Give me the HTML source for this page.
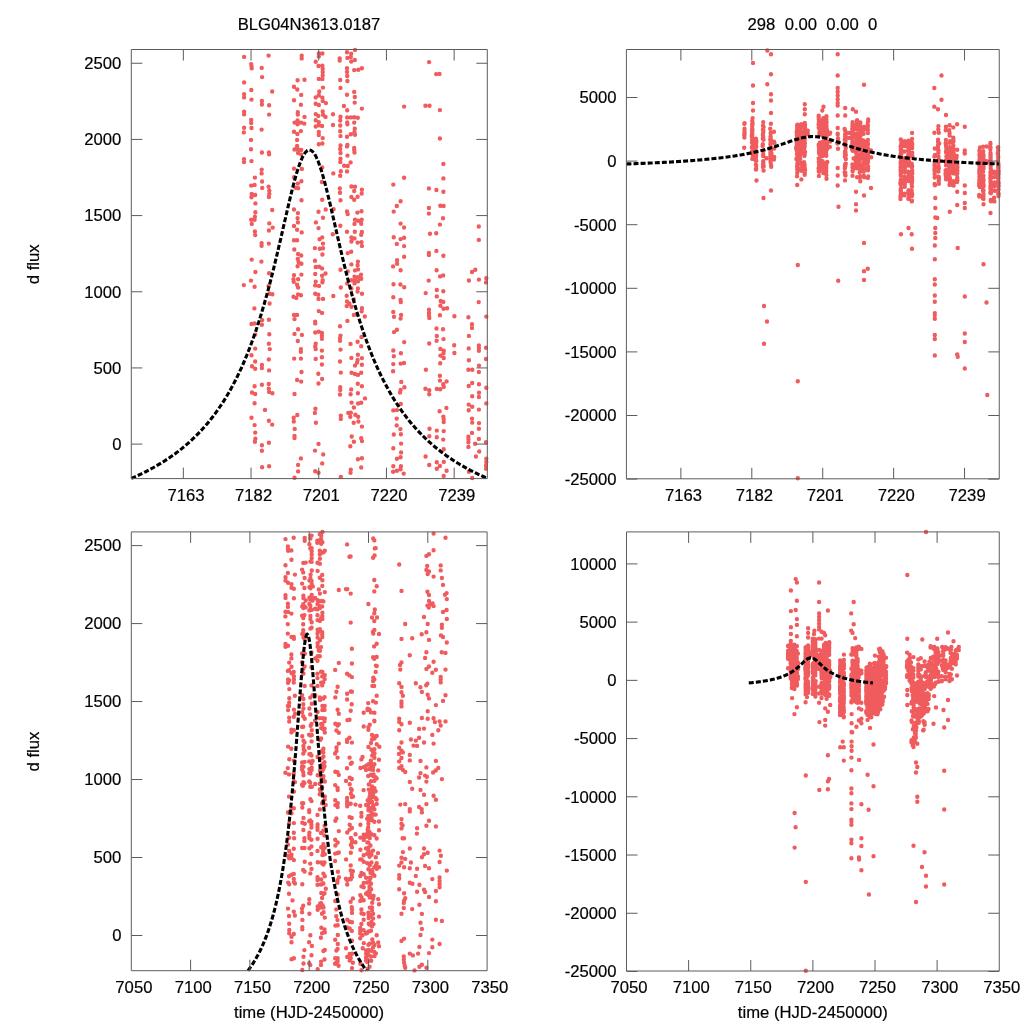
<!DOCTYPE html>
<html><head><meta charset="utf-8"><title>BLG04N3613.0187</title>
<style>html,body{margin:0;padding:0;background:#fff}svg{display:block}</style></head>
<body><svg width="1024" height="1024" viewBox="0 0 1024 1024">
<rect width="1024" height="1024" fill="#fff"/>
<g fill="none" stroke="#f05c5d" stroke-width="4.4" stroke-linecap="round">
<path d="M244.1 56.9h0M244.1 82.4h0M244.1 94.1h0M244.1 97.4h0M244.1 111.7h0M244.1 114.3h0M244.1 127.8h0M243.8 132.4h0M251.2 64.1h0M251.5 66.2h0M251.7 68.3h0M251.3 90.0h0M251.5 99.6h0M251.2 120.0h0M251.2 123.1h0M251.5 128.0h0M251.0 139.9h0M251.0 149.2h0M261.7 67.9h0M262.1 77.1h0M261.9 100.9h0M261.9 104.5h0M261.6 129.6h0M268.6 55.6h0M272.2 91.5h0M269.1 105.3h0M269.1 114.6h0M301.7 55.8h0M301.7 58.4h0M297.6 80.2h0M304.5 79.8h0M294.0 86.7h0M297.3 89.5h0M301.2 94.9h0M294.0 100.3h0M300.9 104.7h0M297.8 112.2h0M297.8 114.5h0M304.5 116.9h0M294.5 122.6h0M297.6 120.5h0M297.6 124.2h0M301.2 122.6h0M304.3 123.6h0M294.0 131.7h0M300.9 131.1h0M297.4 134.0h0M297.1 140.0h0M297.1 145.9h0M294.5 149.5h0M298.1 149.5h0M301.2 150.0h0M318.8 53.5h0M322.4 53.5h0M318.8 56.4h0M315.7 61.8h0M318.5 66.0h0M322.4 65.7h0M322.7 68.8h0M322.7 71.9h0M322.7 75.5h0M318.8 78.9h0M322.4 79.1h0M323.0 87.6h0M319.3 91.5h0M318.8 95.2h0M315.7 97.4h0M322.4 97.8h0M322.7 100.9h0M325.9 103.1h0M315.7 103.8h0M318.8 105.0h0M322.7 111.4h0M315.7 114.1h0M318.3 115.9h0M323.0 114.8h0M325.5 116.9h0M315.7 120.3h0M318.8 122.1h0M318.8 125.2h0M315.7 126.5h0M322.1 126.0h0M318.8 131.9h0M318.8 135.0h0M322.7 138.1h0M318.8 144.3h0M322.4 143.5h0M244.0 159.2h0M244.0 162.1h0M251.5 161.1h0M254.9 177.6h0M251.2 185.6h0M254.6 184.9h0M251.7 193.9h0M255.2 195.0h0M251.5 197.2h0M255.4 203.4h0M255.4 212.3h0M254.9 216.7h0M251.2 219.8h0M254.6 219.8h0M251.8 223.9h0M254.9 231.5h0M255.2 235.1h0M261.9 152.5h0M261.7 169.6h0M261.6 173.4h0M262.1 181.5h0M262.2 187.9h0M261.6 243.1h0M261.6 245.7h0M268.9 152.5h0M269.1 154.3h0M268.6 186.7h0M269.3 190.8h0M269.3 193.9h0M268.9 197.0h0M272.2 210.0h0M269.3 223.4h0M272.7 227.6h0M268.9 230.5h0M268.8 243.6h0M298.1 153.0h0M301.2 154.6h0M294.0 168.6h0M301.9 168.9h0M294.0 177.2h0M301.4 181.3h0M297.8 183.6h0M295.5 187.7h0M298.1 188.2h0M301.5 200.3h0M294.0 209.5h0M297.9 213.1h0M297.6 218.2h0M297.9 222.4h0M294.0 226.0h0M297.1 229.8h0M301.7 232.4h0M294.0 240.3h0M297.1 240.2h0M294.3 249.5h0M298.1 254.0h0M301.2 255.5h0M322.2 167.5h0M321.9 182.0h0M322.2 199.8h0M325.7 209.5h0M318.5 211.7h0M323.0 217.7h0M315.9 222.4h0M318.5 228.1h0M322.2 237.4h0M319.6 239.3h0M323.0 243.6h0M314.9 248.1h0M319.8 248.8h0M323.0 248.3h0M322.4 254.5h0M333.3 173.4h0M333.6 209.2h0M332.8 234.3h0M243.8 285.1h0M251.7 259.6h0M255.4 272.0h0M251.0 280.6h0M254.6 286.8h0M254.4 308.4h0M251.5 323.9h0M254.6 323.4h0M255.2 334.6h0M255.2 348.6h0M251.5 355.3h0M255.2 361.5h0M261.4 261.6h0M262.2 320.1h0M261.9 324.8h0M269.1 273.3h0M268.6 285.9h0M269.3 293.7h0M272.4 294.2h0M269.6 303.5h0M268.9 319.8h0M269.3 334.3h0M268.9 343.7h0M269.8 349.1h0M268.8 359.4h0M297.8 259.0h0M298.6 262.1h0M301.4 263.7h0M297.6 266.3h0M301.4 274.6h0M294.0 275.1h0M293.5 279.2h0M298.1 279.2h0M293.7 281.8h0M297.1 284.7h0M298.1 287.5h0M293.5 296.8h0M296.3 297.9h0M298.1 294.4h0M301.0 295.3h0M294.0 314.9h0M297.1 314.9h0M294.5 319.1h0M298.1 329.2h0M294.5 333.9h0M301.9 334.9h0M297.8 341.0h0M300.9 349.1h0M300.9 351.7h0M294.2 358.6h0M300.9 358.6h0M315.0 260.8h0M315.7 267.0h0M319.1 266.8h0M322.1 268.4h0M315.2 274.0h0M325.5 273.5h0M322.1 275.8h0M322.7 280.3h0M315.7 281.6h0M322.4 282.3h0M315.2 285.4h0M319.0 285.9h0M315.2 293.7h0M318.3 294.7h0M318.5 298.9h0M323.0 298.9h0M318.8 311.1h0M322.1 312.9h0M315.2 321.7h0M315.2 323.4h0M315.2 332.5h0M318.8 331.8h0M321.9 333.0h0M321.9 335.8h0M321.9 338.7h0M315.7 343.7h0M315.2 346.5h0M315.7 349.1h0M321.9 350.6h0M321.9 357.2h0M315.7 358.9h0M333.3 296.0h0M252.0 366.3h0M255.2 368.7h0M254.6 386.3h0M252.0 392.5h0M255.2 394.0h0M254.6 403.3h0M251.5 417.8h0M254.6 425.1h0M255.2 432.6h0M255.4 438.7h0M254.9 441.8h0M261.9 365.0h0M261.9 368.1h0M261.9 384.7h0M265.0 409.9h0M261.9 445.3h0M261.9 450.7h0M262.1 467.3h0M269.1 370.4h0M268.8 384.0h0M268.8 388.8h0M269.1 391.9h0M272.4 393.3h0M268.9 420.7h0M272.2 424.6h0M268.9 442.7h0M269.1 466.3h0M301.5 372.0h0M297.1 380.0h0M301.2 381.6h0M294.5 394.0h0M297.3 415.0h0M293.7 417.8h0M293.8 421.5h0M294.7 428.9h0M294.5 435.9h0M294.5 438.0h0M300.9 458.4h0M298.1 464.9h0M321.9 364.5h0M318.3 373.8h0M322.1 379.0h0M318.5 383.5h0M315.4 408.7h0M314.9 412.9h0M315.9 422.8h0M318.5 443.9h0M315.0 450.6h0M323.2 454.4h0M322.2 463.4h0M298.1 471.4h0M294.5 477.8h0M315.2 471.2h0M318.5 472.8h0M355.0 49.9h0M347.0 52.2h0M351.2 53.8h0M339.7 58.4h0M339.7 60.5h0M347.4 57.9h0M350.8 56.9h0M351.2 61.5h0M354.8 60.0h0M347.0 68.3h0M347.0 71.9h0M347.2 76.0h0M354.2 70.1h0M358.3 69.8h0M361.9 68.3h0M340.2 80.0h0M347.4 81.0h0M340.5 87.9h0M354.2 91.9h0M347.0 94.7h0M354.8 97.0h0M354.7 102.6h0M343.9 106.0h0M347.2 110.2h0M361.9 108.6h0M333.0 114.3h0M340.5 116.7h0M340.2 120.5h0M347.2 117.4h0M350.8 117.4h0M354.2 117.2h0M357.8 117.7h0M347.2 122.4h0M347.4 124.2h0M354.2 122.6h0M340.2 125.5h0M333.0 125.0h0M340.2 131.2h0M340.5 136.1h0M354.8 128.8h0M354.5 131.9h0M350.8 134.3h0M355.0 134.8h0M347.0 136.8h0M340.5 145.4h0M347.4 144.9h0M347.0 146.4h0M340.2 149.0h0M354.2 148.0h0M354.2 150.0h0M340.5 153.0h0M354.5 152.5h0M347.5 155.6h0M340.5 158.7h0M340.3 162.0h0M350.6 162.4h0M344.1 165.8h0M347.7 166.0h0M340.8 171.2h0M347.0 171.4h0M340.2 175.8h0M339.8 188.4h0M340.0 192.7h0M340.5 200.3h0M351.4 186.5h0M355.0 186.7h0M354.2 191.0h0M361.9 189.8h0M361.7 193.6h0M351.4 197.0h0M357.6 196.8h0M354.2 199.8h0M347.0 211.5h0M347.7 214.1h0M361.5 211.2h0M357.4 212.6h0M355.0 219.8h0M361.7 219.8h0M358.1 220.8h0M354.5 223.9h0M361.2 223.7h0M340.3 225.8h0M347.0 231.7h0M354.8 231.7h0M361.9 232.0h0M361.2 234.8h0M351.4 237.4h0M354.5 238.4h0M351.4 241.5h0M357.6 242.6h0M361.5 242.1h0M361.9 245.9h0M351.2 251.7h0M347.7 253.1h0M357.9 261.6h0M351.4 264.4h0M357.6 265.2h0M340.5 269.7h0M355.0 270.4h0M358.1 269.4h0M347.7 271.5h0M361.0 274.8h0M354.5 276.6h0M358.1 277.2h0M351.4 280.3h0M355.0 280.3h0M361.2 278.7h0M358.1 281.3h0M354.5 283.4h0M347.2 283.4h0M340.8 287.5h0M351.4 288.5h0M357.9 288.5h0M357.6 291.6h0M362.0 293.7h0M346.7 295.8h0M353.9 299.4h0M347.0 301.5h0M349.3 303.5h0M346.7 306.1h0M351.4 306.7h0M362.0 308.2h0M361.7 311.3h0M353.9 314.9h0M357.1 314.4h0M364.8 316.5h0M347.4 320.9h0M340.0 326.3h0M340.5 335.6h0M340.0 338.2h0M340.0 340.8h0M361.5 337.0h0M357.6 341.8h0M350.5 343.9h0M361.2 346.3h0M340.5 349.6h0M357.9 354.8h0M351.4 357.9h0M361.9 358.1h0M357.6 360.0h0M340.0 361.5h0M357.1 362.6h0M355.0 365.6h0M361.9 364.8h0M340.8 372.6h0M351.6 372.8h0M355.0 374.0h0M357.9 374.9h0M361.2 372.8h0M357.8 383.7h0M361.9 386.3h0M340.2 387.3h0M340.2 389.9h0M340.0 394.5h0M351.2 389.4h0M350.6 394.3h0M357.9 393.3h0M365.0 398.4h0M351.6 402.6h0M358.1 403.5h0M361.2 402.8h0M353.9 407.5h0M348.3 412.9h0M350.8 412.7h0M350.3 416.8h0M355.3 414.7h0M358.1 416.8h0M340.8 415.8h0M340.8 418.9h0M358.4 421.5h0M353.7 422.8h0M361.9 426.6h0M351.7 436.5h0M361.2 438.2h0M362.0 441.1h0M353.9 441.8h0M350.3 446.3h0M357.9 459.2h0M361.9 458.2h0M361.2 467.5h0M350.8 469.6h0M350.5 472.8h0M340.8 476.9h0M429.1 62.1h0M436.2 74.1h0M439.5 73.9h0M404.1 106.6h0M425.4 105.8h0M429.5 105.8h0M439.9 110.1h0M439.9 138.5h0M443.4 163.9h0M404.1 177.8h0M443.4 178.4h0M393.3 184.6h0M428.9 188.4h0M436.4 190.0h0M443.4 191.7h0M400.6 201.2h0M396.8 206.0h0M440.3 205.8h0M443.6 206.0h0M428.9 208.0h0M393.7 211.6h0M428.9 213.6h0M443.0 218.2h0M400.6 223.6h0M439.9 224.6h0M404.1 227.5h0M478.8 226.5h0M430.0 233.7h0M436.2 233.3h0M393.7 237.2h0M400.6 239.1h0M404.1 237.8h0M478.8 239.9h0M396.8 243.9h0M404.1 246.1h0M436.4 250.9h0M428.9 253.0h0M428.9 255.0h0M443.4 255.7h0M404.1 256.7h0M400.6 270.3h0M393.5 284.2h0M400.4 284.5h0M404.2 287.3h0M393.3 297.2h0M400.6 300.0h0M400.8 302.1h0M393.3 311.9h0M401.1 315.0h0M394.0 316.8h0M400.6 318.6h0M396.9 329.7h0M394.0 332.1h0M404.2 342.1h0M393.3 350.5h0M400.9 353.3h0M393.8 356.2h0M393.1 266.4h0M397.1 263.8h0M397.1 260.3h0M436.6 270.3h0M443.2 275.4h0M440.1 276.4h0M428.7 280.6h0M436.8 290.0h0M443.3 291.2h0M425.7 293.1h0M436.8 296.4h0M440.7 301.0h0M443.3 301.9h0M440.4 305.7h0M447.1 308.3h0M443.5 308.8h0M429.0 309.8h0M429.0 312.9h0M429.0 315.5h0M429.3 317.9h0M439.9 315.3h0M454.4 316.2h0M436.5 328.5h0M443.0 329.2h0M436.8 335.9h0M443.5 339.1h0M436.6 340.7h0M429.2 343.5h0M454.2 345.2h0M440.4 348.9h0M443.8 350.7h0M454.4 353.0h0M443.5 353.3h0M440.4 355.6h0M443.7 358.0h0M475.3 269.8h0M472.0 272.0h0M468.9 280.5h0M478.9 279.6h0M486.3 278.3h0M486.0 282.4h0M478.7 302.1h0M468.4 317.3h0M486.3 316.6h0M472.0 324.3h0M472.0 327.9h0M468.9 335.9h0M468.7 348.4h0M478.9 345.5h0M478.9 348.1h0M478.9 350.7h0M486.0 347.8h0M468.9 360.3h0M486.0 359.0h0M393.3 364.1h0M400.6 363.6h0M404.0 363.0h0M393.1 371.3h0M401.3 381.9h0M404.4 387.2h0M400.6 389.9h0M400.0 392.5h0M400.8 403.9h0M396.9 410.1h0M393.3 410.4h0M396.7 418.6h0M396.7 425.4h0M400.4 429.1h0M393.8 434.5h0M400.9 434.2h0M401.1 443.6h0M393.3 448.2h0M401.1 452.4h0M400.6 457.2h0M396.9 458.8h0M393.3 466.3h0M400.9 466.3h0M440.2 363.2h0M425.9 369.8h0M439.9 375.7h0M439.9 380.6h0M446.6 381.4h0M443.2 384.3h0M443.8 386.8h0M425.4 388.7h0M436.8 388.9h0M440.2 389.2h0M429.3 390.2h0M429.2 394.3h0M446.4 407.9h0M439.6 411.2h0M443.3 416.6h0M443.7 418.9h0M443.7 422.0h0M429.5 428.8h0M436.8 430.6h0M443.7 431.1h0M429.3 436.2h0M436.8 437.3h0M443.2 439.6h0M443.7 449.3h0M425.6 456.5h0M436.8 462.2h0M443.8 461.9h0M429.2 465.0h0M439.9 466.0h0M479.0 365.6h0M468.4 369.8h0M472.3 369.8h0M478.9 372.0h0M472.2 383.0h0M468.7 386.0h0M479.0 384.3h0M486.3 387.7h0M479.0 392.7h0M472.2 396.2h0M478.9 397.0h0M486.3 403.4h0M468.7 404.6h0M472.2 406.7h0M468.7 410.3h0M478.9 409.6h0M472.0 418.6h0M472.2 422.6h0M479.0 423.1h0M478.9 428.8h0M472.0 432.9h0M468.4 436.7h0M468.4 439.3h0M478.9 438.9h0M468.4 442.2h0M475.1 443.8h0M486.0 442.2h0M468.4 446.9h0M479.2 451.5h0M475.9 456.5h0M486.3 458.8h0M486.3 461.9h0M486.0 465.5h0M400.6 469.2h0M396.9 470.7h0M393.1 471.8h0M403.7 473.6h0M436.8 468.7h0M446.6 470.7h0M443.7 475.9h0M486.0 468.7h0M468.9 471.8h0M472.2 478.0h0"/>
<path d="M744.3 123.7h0M744.6 123.1h0M744.5 123.7h0M752.4 124.6h0M752.2 126.6h0M752.6 118.1h0M752.4 123.3h0M752.2 124.5h0M752.6 123.3h0M752.3 121.0h0M755.9 164.7h0M755.8 169.2h0M756.2 165.6h0M756.1 169.6h0M756.2 168.5h0M771.2 166.8h0M763.0 167.1h0M771.1 165.2h0M763.1 166.8h0M763.6 170.6h0M763.7 166.2h0M763.1 164.2h0M763.0 125.6h0M763.2 122.1h0M763.6 127.1h0M770.9 123.7h0M763.3 126.4h0M804.7 168.0h0M800.9 168.2h0M797.4 165.3h0M801.4 179.4h0M801.6 170.7h0M797.4 164.8h0M797.7 168.0h0M797.7 164.2h0M804.6 170.2h0M804.5 164.3h0M804.6 165.8h0M805.0 169.7h0M804.6 171.7h0M801.0 168.3h0M797.7 167.9h0M804.9 173.1h0M805.1 169.7h0M804.7 168.1h0M804.6 168.8h0M804.5 170.8h0M801.6 164.5h0M804.6 173.8h0M801.5 164.2h0M797.1 166.6h0M797.6 169.6h0M797.0 176.3h0M804.7 174.7h0M797.3 172.7h0M801.6 170.2h0M797.6 171.0h0M797.2 169.3h0M801.6 124.6h0M805.0 127.4h0M801.2 126.4h0M804.8 125.0h0M805.0 125.0h0M801.2 126.8h0M804.8 123.0h0M797.4 127.7h0M801.3 125.2h0M801.2 124.3h0M801.3 127.8h0M797.1 128.1h0M801.4 125.6h0M797.1 125.5h0M797.6 125.0h0M797.4 124.8h0M805.1 128.1h0M801.2 127.6h0M804.9 125.7h0M800.9 126.1h0M818.9 175.9h0M826.3 167.8h0M818.9 170.0h0M818.9 169.2h0M823.3 169.3h0M819.1 171.7h0M826.1 170.4h0M823.2 167.0h0M826.4 174.9h0M826.2 171.4h0M818.8 170.5h0M826.5 178.7h0M818.6 168.2h0M826.4 175.0h0M819.2 165.4h0M826.0 167.6h0M823.1 166.5h0M823.4 167.7h0M822.9 167.2h0M823.2 170.6h0M818.9 167.5h0M823.0 168.8h0M823.3 165.0h0M826.3 164.9h0M818.8 171.2h0M823.3 173.1h0M823.1 165.9h0M826.1 169.5h0M823.2 166.4h0M823.3 168.9h0M819.0 126.7h0M819.1 127.9h0M823.0 125.3h0M818.8 123.5h0M823.4 126.3h0M819.3 120.6h0M826.4 125.7h0M826.1 125.1h0M822.8 120.7h0M818.7 115.6h0M818.8 119.3h0M826.4 125.2h0M822.9 119.7h0M822.9 127.7h0M819.0 124.3h0M819.2 124.8h0M826.6 122.5h0M819.3 123.6h0M819.0 119.7h0M819.1 122.3h0M823.0 123.3h0M818.7 118.0h0M819.1 121.5h0M826.0 126.0h0M819.3 122.5h0M818.7 116.3h0M826.4 116.2h0M822.8 121.2h0M826.4 126.2h0M826.0 125.0h0M823.2 118.2h0M819.2 127.9h0M818.6 124.6h0M823.0 127.5h0M818.7 127.7h0M822.9 121.3h0M818.9 121.3h0M823.4 121.7h0M826.2 127.1h0M823.2 127.9h0M818.8 127.9h0M818.8 127.2h0M823.0 126.9h0M823.2 127.8h0M826.3 120.0h0M818.9 127.3h0M818.7 118.1h0M823.3 125.2h0M823.1 122.5h0M826.3 123.4h0M826.4 119.7h0M826.0 119.4h0M823.4 121.8h0M826.5 116.8h0M823.3 125.5h0M844.7 172.3h0M845.0 180.4h0M845.2 164.1h0M845.1 173.2h0M845.5 175.5h0M844.8 168.1h0M844.8 168.2h0M845.0 174.8h0M845.1 174.6h0M845.3 166.2h0M844.9 165.4h0M844.8 165.6h0M845.3 172.6h0M860.3 181.3h0M852.9 169.0h0M853.0 169.8h0M864.2 177.3h0M852.9 165.7h0M856.9 165.2h0M863.7 166.7h0M863.6 166.1h0M863.9 164.6h0M852.5 171.1h0M852.5 167.3h0M863.8 171.6h0M856.7 164.4h0M860.4 168.3h0M852.5 175.7h0M852.9 169.5h0M852.4 164.5h0M864.2 164.6h0M856.6 167.4h0M856.8 168.2h0M867.9 170.1h0M857.1 177.2h0M867.9 170.3h0M859.9 177.5h0M860.3 167.5h0M856.6 164.4h0M860.4 170.2h0M857.0 168.0h0M859.7 172.6h0M868.2 176.4h0M864.2 168.6h0M859.8 172.3h0M864.3 168.7h0M852.7 171.2h0M857.2 164.2h0M860.0 177.1h0M867.8 177.9h0M863.9 168.4h0M868.1 166.4h0M860.2 176.5h0M868.1 168.6h0M860.2 164.7h0M867.6 168.2h0M867.5 168.3h0M863.8 175.7h0M856.7 126.9h0M856.6 126.5h0M860.1 123.4h0M857.1 120.2h0M867.8 126.0h0M856.7 124.5h0M856.7 126.2h0M856.8 121.0h0M860.3 127.1h0M860.3 122.5h0M852.5 123.7h0M859.7 124.2h0M867.7 127.3h0M852.4 126.1h0M867.9 125.1h0M857.2 126.2h0M857.1 123.4h0M867.7 124.4h0M859.7 127.3h0M868.0 121.8h0M852.9 126.2h0M860.3 126.8h0M853.0 124.9h0M860.2 123.8h0M864.0 126.9h0M852.7 126.7h0M856.7 128.1h0M868.1 121.4h0M864.0 127.1h0M860.3 126.2h0M860.2 128.0h0M852.6 122.1h0M859.8 125.8h0M867.5 126.6h0M859.7 124.9h0M852.7 126.3h0M868.2 119.5h0M904.6 172.2h0M900.9 172.1h0M900.4 183.5h0M905.0 167.6h0M900.7 171.1h0M900.6 167.0h0M908.7 198.0h0M908.5 178.1h0M912.0 194.2h0M911.9 192.8h0M904.8 186.8h0M911.9 167.6h0M900.4 196.8h0M908.9 194.9h0M912.2 170.6h0M900.6 190.3h0M912.0 200.7h0M900.9 168.8h0M900.8 183.0h0M908.7 165.6h0M911.6 176.4h0M904.5 171.2h0M900.8 184.5h0M904.9 170.9h0M900.9 188.8h0M908.3 178.1h0M900.5 198.9h0M900.8 194.7h0M912.2 194.6h0M900.8 174.8h0M908.5 176.8h0M904.4 195.4h0M900.4 182.8h0M904.5 165.9h0M900.9 193.1h0M911.7 190.4h0M911.9 182.7h0M908.9 164.2h0M904.9 180.4h0M912.2 166.0h0M900.8 180.5h0M900.9 179.4h0M900.7 175.6h0M904.6 177.0h0M908.8 190.2h0M900.8 168.2h0M911.8 182.0h0M904.7 176.6h0M912.3 173.5h0M908.2 171.9h0M900.6 170.1h0M912.0 186.4h0M904.9 181.5h0M908.5 198.1h0M908.3 191.0h0M904.4 165.6h0M904.6 193.6h0M904.5 180.6h0M908.2 171.7h0M908.4 192.5h0M905.0 170.7h0M911.9 196.0h0M900.7 184.6h0M911.7 184.1h0M904.6 182.1h0M900.8 191.4h0M908.3 198.8h0M904.7 184.6h0M904.9 165.2h0M908.5 177.6h0M908.3 198.5h0M911.8 179.3h0M901.1 188.3h0M908.6 176.6h0M912.2 180.6h0M904.9 184.0h0M912.0 177.1h0M904.8 171.0h0M908.5 192.4h0M904.5 177.1h0M908.5 173.5h0M908.5 176.9h0M900.8 172.6h0M901.1 167.4h0M908.8 198.9h0M901.0 169.4h0M911.7 164.6h0M908.4 181.0h0M901.1 179.7h0M911.8 201.4h0M912.0 178.4h0M911.6 177.6h0M901.0 192.5h0M900.9 167.5h0M900.9 190.8h0M934.6 170.7h0M934.8 168.2h0M938.9 176.9h0M939.0 178.9h0M938.7 181.3h0M934.8 185.1h0M934.8 170.5h0M934.6 174.1h0M934.7 168.3h0M934.5 169.4h0M938.7 167.6h0M938.5 166.1h0M938.2 176.6h0M938.9 183.8h0M934.7 177.6h0M934.8 166.9h0M938.8 168.5h0M938.4 171.5h0M934.6 184.0h0M935.0 185.2h0M934.5 165.0h0M949.9 168.4h0M949.3 167.7h0M957.2 179.6h0M953.4 181.2h0M953.5 182.1h0M957.3 173.6h0M953.1 166.8h0M957.2 165.4h0M953.1 164.6h0M957.0 182.0h0M953.0 172.1h0M957.4 167.4h0M953.4 169.5h0M946.0 165.3h0M953.3 183.7h0M949.5 171.9h0M956.9 174.6h0M956.9 173.0h0M957.0 171.3h0M949.9 165.9h0M949.3 169.8h0M957.4 180.6h0M945.5 173.6h0M953.7 171.0h0M949.8 177.7h0M946.1 171.0h0M957.3 177.7h0M946.1 170.3h0M949.9 178.9h0M949.3 177.0h0M949.8 171.7h0M956.7 171.7h0M957.0 172.2h0M946.0 179.3h0M957.1 171.8h0M949.6 184.9h0M953.0 169.8h0M949.8 181.2h0M949.4 168.7h0M949.6 169.4h0M953.7 185.6h0M949.6 184.4h0M957.2 178.6h0M957.0 164.0h0M946.0 176.9h0M945.6 170.5h0M949.3 164.5h0M949.3 174.7h0M946.0 174.3h0M953.1 166.0h0M945.7 175.2h0M949.7 165.0h0M949.5 168.4h0M953.4 173.4h0M956.8 171.7h0M953.1 166.7h0M949.6 167.2h0M949.4 172.8h0M953.1 185.2h0M949.3 165.6h0M953.7 169.2h0M945.9 170.2h0M957.2 164.5h0M957.4 170.6h0M950.0 172.5h0M946.0 175.9h0M953.7 170.7h0M949.6 165.7h0M983.2 178.4h0M979.7 186.6h0M979.3 185.5h0M979.5 195.4h0M983.5 179.7h0M998.1 171.2h0M979.2 164.1h0M979.3 173.8h0M990.5 187.3h0M983.4 179.5h0M983.0 166.0h0M979.3 183.9h0M990.9 193.3h0M983.1 171.2h0M998.7 194.0h0M998.0 170.8h0M982.9 166.8h0M998.1 186.0h0M990.9 201.2h0M979.5 184.3h0M998.6 170.5h0M983.1 186.2h0M990.9 186.9h0M994.1 171.8h0M983.2 168.9h0M991.0 188.8h0M983.0 196.3h0M982.9 167.3h0M983.1 191.2h0M998.7 186.0h0M994.7 190.7h0M983.3 175.6h0M983.6 185.0h0M983.0 178.5h0M979.6 165.4h0M998.4 174.7h0M983.0 190.7h0M990.4 172.5h0M979.6 178.6h0M998.3 180.8h0M990.6 192.8h0M998.2 165.9h0M979.3 184.8h0M983.5 168.3h0M990.7 200.0h0M982.9 198.6h0M998.3 176.5h0M990.5 188.9h0M998.2 173.6h0M998.5 164.5h0M979.8 173.9h0M998.3 192.9h0M979.2 165.1h0M983.4 175.8h0M990.3 178.0h0M998.4 168.5h0M983.2 171.6h0M979.3 184.6h0M979.1 194.9h0M998.2 186.0h0M979.2 171.5h0M994.6 182.5h0M994.3 186.3h0M998.6 183.8h0M998.5 182.0h0M983.4 168.6h0M998.7 173.9h0M983.6 186.3h0M983.3 166.8h0M983.2 182.5h0M979.5 168.7h0M998.4 169.2h0M979.4 169.6h0M998.1 175.7h0M994.3 172.2h0M990.9 174.3h0M983.0 178.0h0M982.9 190.1h0M998.7 183.2h0M998.5 174.1h0M979.6 181.6h0M990.5 182.4h0M998.2 167.5h0M979.4 172.2h0M990.3 192.7h0M994.5 173.3h0M983.0 184.3h0M983.5 165.1h0M998.7 171.7h0M990.7 176.9h0M998.2 175.8h0M994.5 177.1h0M983.0 169.3h0M979.7 187.1h0M990.9 178.1h0M983.5 166.6h0M979.1 185.6h0M979.5 170.8h0M998.6 189.2h0M994.4 201.4h0M998.3 178.8h0M979.4 172.2h0M990.9 184.3h0M979.7 171.3h0M998.3 176.6h0M990.5 175.0h0M979.5 169.3h0M998.2 171.4h0M982.9 186.5h0M998.0 176.2h0M983.5 196.6h0M994.4 186.1h0M990.6 172.0h0M990.9 172.9h0M983.5 194.2h0M998.5 196.1h0M998.0 181.9h0M998.5 178.0h0M979.8 170.9h0M990.5 191.7h0M990.4 186.1h0M983.5 180.5h0M990.6 181.8h0M998.3 194.3h0M994.1 197.8h0M990.9 172.6h0M983.1 181.1h0M990.6 164.9h0M979.3 196.5h0M983.5 198.9h0M990.9 169.9h0M990.5 175.4h0M979.4 176.8h0M983.4 198.7h0M998.6 166.8h0M982.9 179.7h0M979.1 183.1h0M990.7 166.0h0M983.5 190.2h0M991.0 193.0h0M979.3 180.1h0M994.3 184.9h0M983.2 191.4h0M979.8 167.5h0M990.7 168.3h0M990.5 180.0h0M983.0 183.2h0M983.0 197.9h0M998.4 171.4h0M990.8 174.4h0M753.0 63.0h0M753.0 85.5h0M753.0 103.0h0M753.0 110.5h0M767.3 50.5h0M771.0 54.2h0M771.0 74.2h0M767.3 84.2h0M771.0 94.2h0M771.0 100.5h0M771.0 113.0h0M804.8 104.2h0M804.8 109.2h0M804.8 114.2h0M823.5 106.8h0M822.3 110.5h0M837.7 54.2h0M837.7 75.5h0M837.7 88.0h0M837.7 91.8h0M837.7 95.5h0M837.7 99.2h0M837.7 103.0h0M837.7 105.5h0M837.7 115.5h0M837.7 128.0h0M837.7 168.0h0M837.7 175.5h0M837.7 185.5h0M838.5 206.8h0M845.2 108.0h0M845.2 115.5h0M852.8 109.2h0M856.0 111.8h0M864.0 84.8h0M941.5 75.5h0M934.3 88.0h0M941.5 99.8h0M934.3 106.8h0M938.0 109.2h0M946.0 115.0h0M964.8 126.8h0M756.5 180.5h0M763.5 198.0h0M771.0 190.5h0M797.2 185.0h0M856.0 191.8h0M864.0 195.5h0M856.0 204.2h0M856.0 210.5h0M871.0 188.0h0M901.0 234.2h0M908.5 228.0h0M911.7 234.2h0M935.3 198.0h0M935.3 208.0h0M935.3 217.5h0M937.3 218.0h0M935.3 228.0h0M935.3 233.0h0M935.3 238.0h0M949.8 211.8h0M957.2 205.0h0M957.2 191.8h0M964.8 185.5h0M964.8 193.0h0M964.8 203.0h0M964.8 208.0h0M983.5 204.2h0M990.5 213.0h0M864.0 243.0h0M912.0 248.8h0M934.8 245.5h0M957.7 248.0h0M797.8 265.0h0M934.8 259.2h0M983.5 264.2h0M867.8 268.8h0M864.0 271.2h0M838.2 280.8h0M864.0 280.0h0M934.8 279.2h0M934.8 284.5h0M934.8 295.5h0M964.8 296.5h0M934.8 301.8h0M986.5 302.5h0M764.0 306.0h0M934.8 313.2h0M934.8 315.0h0M934.8 318.8h0M767.0 321.5h0M934.8 335.0h0M934.8 339.0h0M964.8 333.5h0M964.8 342.0h0M764.0 343.8h0M934.8 355.5h0M957.2 354.5h0M957.7 356.8h0M964.8 368.5h0M797.8 381.2h0M987.3 395.0h0M797.8 478.2h0M744.5 128.8h0M744.5 130.9h0M744.5 131.9h0M744.5 132.2h0M744.5 133.3h0M744.5 133.6h0M744.5 134.7h0M744.2 135.1h0M752.0 129.4h0M752.3 129.5h0M752.5 129.7h0M752.1 131.5h0M752.3 132.3h0M752.0 134.0h0M752.0 134.3h0M752.3 134.7h0M751.8 135.7h0M751.8 136.5h0M762.9 129.7h0M763.4 130.5h0M763.2 132.4h0M763.2 132.7h0M762.8 134.8h0M770.2 128.7h0M774.0 131.7h0M770.7 132.8h0M770.7 133.6h0M804.9 128.7h0M804.9 128.9h0M800.6 130.7h0M807.8 130.7h0M796.8 131.3h0M800.2 131.5h0M804.4 131.9h0M796.8 132.4h0M804.0 132.8h0M800.8 133.4h0M800.8 133.6h0M807.8 133.8h0M797.3 134.3h0M800.6 134.1h0M800.6 134.4h0M804.4 134.3h0M807.6 134.3h0M796.8 135.0h0M804.0 135.0h0M800.3 135.2h0M800.0 135.7h0M800.0 136.2h0M797.3 136.5h0M801.1 136.5h0M804.4 136.5h0M822.8 128.5h0M826.6 128.5h0M822.8 128.7h0M819.5 129.2h0M822.5 129.5h0M826.6 129.5h0M826.9 129.8h0M826.9 130.0h0M826.9 130.3h0M822.8 130.6h0M826.6 130.6h0M827.1 131.3h0M823.3 131.7h0M822.8 132.0h0M819.5 132.2h0M826.6 132.2h0M826.9 132.4h0M830.2 132.6h0M819.5 132.7h0M822.8 132.8h0M826.9 133.3h0M819.5 133.5h0M822.2 133.7h0M827.1 133.6h0M829.8 133.8h0M819.5 134.1h0M822.8 134.2h0M822.8 134.5h0M819.5 134.6h0M826.3 134.5h0M822.8 135.0h0M822.8 135.3h0M826.9 135.6h0M822.8 136.1h0M826.6 136.0h0M744.4 137.3h0M744.4 137.6h0M752.3 137.5h0M755.9 138.8h0M752.0 139.5h0M755.6 139.5h0M752.5 140.2h0M756.1 140.3h0M752.3 140.5h0M756.3 141.0h0M756.3 141.7h0M755.9 142.1h0M752.0 142.4h0M755.6 142.4h0M752.6 142.7h0M755.9 143.3h0M756.1 143.7h0M763.2 136.8h0M762.9 138.2h0M762.8 138.5h0M763.4 139.2h0M763.5 139.7h0M762.8 144.3h0M762.8 144.5h0M770.5 136.8h0M770.7 136.9h0M770.2 139.6h0M771.0 140.0h0M771.0 140.2h0M770.5 140.5h0M774.0 141.6h0M771.0 142.7h0M774.5 143.0h0M770.5 143.3h0M770.4 144.4h0M801.1 136.8h0M804.4 136.9h0M796.8 138.1h0M805.1 138.1h0M796.8 138.8h0M804.6 139.2h0M800.8 139.3h0M798.4 139.7h0M801.1 139.7h0M804.7 140.7h0M796.8 141.5h0M800.9 141.8h0M800.6 142.2h0M800.9 142.6h0M796.8 142.9h0M800.0 143.2h0M804.9 143.4h0M796.8 144.1h0M800.0 144.1h0M797.1 144.9h0M801.1 145.2h0M804.4 145.4h0M826.4 138.0h0M826.0 139.2h0M826.4 140.7h0M830.1 141.5h0M822.5 141.7h0M827.1 142.2h0M819.8 142.6h0M822.5 143.1h0M826.4 143.8h0M823.7 144.0h0M827.1 144.4h0M818.7 144.7h0M823.9 144.8h0M827.1 144.7h0M826.6 145.3h0M838.0 138.5h0M838.3 141.5h0M837.4 143.6h0M744.2 147.8h0M752.5 145.7h0M756.3 146.7h0M751.8 147.4h0M755.6 148.0h0M755.4 149.8h0M752.3 151.1h0M755.6 151.0h0M756.1 152.0h0M756.1 153.1h0M752.3 153.7h0M756.1 154.2h0M762.6 145.9h0M763.5 150.7h0M763.2 151.1h0M770.7 146.8h0M770.2 147.9h0M771.0 148.5h0M774.2 148.6h0M771.3 149.4h0M770.5 150.7h0M771.0 151.9h0M770.5 152.7h0M771.5 153.2h0M770.4 154.0h0M800.8 145.6h0M801.6 145.9h0M804.6 146.0h0M800.6 146.3h0M804.6 146.9h0M796.8 147.0h0M796.2 147.3h0M801.1 147.3h0M796.4 147.5h0M800.0 147.8h0M801.1 148.0h0M796.2 148.8h0M799.3 148.9h0M801.1 148.6h0M804.1 148.7h0M796.8 150.3h0M800.0 150.3h0M797.3 150.7h0M801.1 151.5h0M797.3 151.9h0M805.1 152.0h0M800.8 152.5h0M804.0 153.2h0M804.0 153.4h0M797.0 154.0h0M804.0 154.0h0M818.8 145.8h0M819.5 146.3h0M823.1 146.3h0M826.3 146.4h0M819.0 146.9h0M829.8 146.9h0M826.3 147.0h0M826.9 147.4h0M819.5 147.5h0M826.6 147.6h0M819.0 147.9h0M823.0 147.9h0M819.0 148.5h0M822.2 148.6h0M822.5 149.0h0M827.1 149.0h0M822.8 150.0h0M826.3 150.1h0M819.0 150.9h0M819.0 151.0h0M819.0 151.8h0M822.8 151.7h0M826.0 151.8h0M826.0 152.1h0M826.0 152.3h0M819.5 152.7h0M819.0 153.0h0M819.5 153.2h0M826.0 153.3h0M826.0 153.8h0M819.5 154.0h0M838.0 148.7h0M752.9 154.6h0M756.1 154.8h0M755.6 156.3h0M752.9 156.8h0M756.1 156.9h0M755.6 157.7h0M752.3 158.9h0M755.6 159.5h0M756.1 160.1h0M756.3 160.7h0M755.9 160.9h0M763.2 154.5h0M763.2 154.8h0M763.2 156.1h0M766.4 158.2h0M763.2 161.2h0M763.2 161.7h0M763.4 163.0h0M770.7 154.9h0M770.4 156.1h0M770.4 156.5h0M770.7 156.7h0M774.2 156.9h0M770.5 159.1h0M774.0 159.5h0M770.5 161.0h0M770.7 163.0h0M804.7 155.1h0M800.0 155.8h0M804.4 155.9h0M797.3 156.9h0M800.2 158.7h0M796.4 158.9h0M796.6 159.2h0M797.5 159.8h0M797.3 160.4h0M797.3 160.6h0M804.0 162.3h0M801.1 162.8h0M826.0 154.5h0M822.2 155.2h0M826.3 155.7h0M822.5 156.0h0M819.2 158.1h0M818.7 158.5h0M819.8 159.3h0M822.5 161.1h0M818.8 161.6h0M827.3 162.0h0M826.4 162.7h0M801.1 163.4h0M797.3 163.9h0M819.0 163.4h0M822.5 163.5h0M860.7 128.2h0M852.3 128.4h0M856.7 128.5h0M844.6 128.9h0M844.6 129.1h0M852.8 128.9h0M856.3 128.8h0M856.7 129.2h0M860.5 129.0h0M852.3 129.7h0M852.3 130.0h0M852.5 130.4h0M859.8 129.9h0M864.1 129.8h0M867.9 129.7h0M845.2 130.7h0M852.8 130.8h0M845.5 131.4h0M859.8 131.7h0M852.3 131.9h0M860.5 132.1h0M860.3 132.6h0M849.1 132.9h0M852.5 133.2h0M867.9 133.1h0M837.7 133.6h0M845.5 133.8h0M845.2 134.1h0M852.5 133.8h0M856.3 133.8h0M859.8 133.8h0M863.6 133.8h0M852.5 134.2h0M852.8 134.4h0M859.8 134.3h0M845.2 134.5h0M837.7 134.5h0M845.2 135.0h0M845.5 135.4h0M860.5 134.8h0M860.1 135.0h0M856.3 135.2h0M860.7 135.3h0M852.3 135.4h0M845.5 136.2h0M852.8 136.1h0M852.3 136.2h0M845.2 136.5h0M859.8 136.4h0M859.8 136.5h0M845.5 136.8h0M860.1 136.8h0M852.9 137.0h0M845.5 137.3h0M845.3 137.5h0M856.1 137.6h0M849.3 137.9h0M853.1 137.9h0M845.8 138.3h0M852.3 138.3h0M845.2 138.7h0M844.7 139.8h0M845.0 140.1h0M845.5 140.7h0M856.9 139.6h0M860.7 139.6h0M859.8 140.0h0M867.9 139.9h0M867.7 140.2h0M856.9 140.5h0M863.4 140.5h0M859.8 140.7h0M852.3 141.7h0M853.1 141.9h0M867.5 141.7h0M863.2 141.8h0M860.7 142.4h0M867.7 142.4h0M863.9 142.5h0M860.1 142.7h0M867.2 142.7h0M845.3 142.9h0M852.3 143.4h0M860.5 143.4h0M867.9 143.4h0M867.2 143.6h0M856.9 143.8h0M860.1 143.9h0M856.9 144.2h0M863.4 144.3h0M867.5 144.2h0M867.9 144.5h0M856.7 145.0h0M853.1 145.2h0M863.7 145.9h0M856.9 146.1h0M863.4 146.2h0M845.5 146.5h0M860.7 146.6h0M863.9 146.5h0M853.1 146.7h0M867.0 147.0h0M860.1 147.1h0M863.9 147.2h0M856.9 147.4h0M860.7 147.4h0M867.2 147.3h0M863.9 147.5h0M860.1 147.7h0M852.5 147.7h0M845.8 148.0h0M856.9 148.1h0M863.7 148.1h0M863.4 148.4h0M868.0 148.5h0M852.0 148.7h0M859.6 149.0h0M852.3 149.2h0M854.7 149.4h0M852.0 149.6h0M856.9 149.6h0M868.0 149.8h0M867.7 150.0h0M859.6 150.3h0M862.8 150.3h0M871.0 150.4h0M852.8 150.8h0M845.0 151.3h0M845.5 152.0h0M845.0 152.3h0M845.0 152.5h0M867.5 152.2h0M863.4 152.6h0M856.0 152.7h0M867.2 152.9h0M845.5 153.2h0M863.7 153.6h0M856.9 153.9h0M867.9 153.9h0M863.4 154.1h0M845.0 154.2h0M862.8 154.3h0M860.7 154.5h0M867.9 154.5h0M845.8 155.1h0M857.1 155.1h0M860.7 155.3h0M863.7 155.3h0M867.2 155.1h0M863.6 156.1h0M867.9 156.3h0M845.2 156.4h0M845.2 156.6h0M845.0 157.0h0M856.7 156.5h0M856.1 156.9h0M863.7 156.9h0M871.2 157.3h0M857.1 157.6h0M863.9 157.7h0M867.2 157.7h0M859.6 158.0h0M853.6 158.5h0M856.3 158.5h0M855.8 158.8h0M861.0 158.6h0M863.9 158.8h0M845.8 158.7h0M845.8 159.0h0M864.2 159.2h0M859.4 159.3h0M867.9 159.6h0M857.2 160.5h0M867.2 160.6h0M868.0 160.9h0M859.6 160.9h0M855.8 161.3h0M863.7 162.4h0M867.9 162.3h0M867.2 163.1h0M856.3 163.2h0M856.0 163.5h0M845.8 163.8h0M938.3 129.2h0M945.7 130.2h0M949.2 130.2h0M912.1 132.9h0M934.4 132.8h0M938.8 132.8h0M949.6 133.2h0M949.6 135.6h0M953.3 137.7h0M912.1 138.9h0M953.3 138.9h0M900.8 139.4h0M938.1 139.7h0M945.9 139.9h0M953.3 140.0h0M908.4 140.8h0M904.5 141.2h0M950.0 141.2h0M953.5 141.2h0M938.1 141.4h0M901.3 141.7h0M938.1 141.9h0M952.9 142.2h0M908.4 142.7h0M949.6 142.8h0M912.1 143.0h0M990.4 142.9h0M939.2 143.5h0M945.7 143.5h0M901.3 143.8h0M908.4 144.0h0M912.1 143.9h0M990.4 144.1h0M904.5 144.4h0M912.1 144.6h0M945.9 145.0h0M938.1 145.1h0M938.1 145.3h0M953.3 145.4h0M912.1 145.5h0M908.4 146.6h0M901.0 147.7h0M908.2 147.8h0M912.2 148.0h0M900.8 148.8h0M908.4 149.1h0M908.6 149.2h0M900.8 150.1h0M908.9 150.3h0M901.6 150.5h0M908.4 150.6h0M904.6 151.5h0M901.6 151.7h0M912.2 152.6h0M900.8 153.3h0M908.7 153.5h0M901.4 153.8h0M900.6 146.3h0M904.8 146.0h0M904.8 145.8h0M946.1 146.6h0M953.1 147.0h0M949.8 147.1h0M937.9 147.5h0M946.4 148.2h0M953.2 148.3h0M934.8 148.5h0M946.4 148.8h0M950.5 149.2h0M953.2 149.2h0M950.1 149.5h0M957.2 149.8h0M953.4 149.8h0M938.2 149.9h0M938.2 150.1h0M938.2 150.4h0M938.5 150.6h0M949.6 150.3h0M964.8 150.4h0M946.0 151.4h0M952.9 151.5h0M946.4 152.1h0M953.4 152.3h0M946.1 152.5h0M938.4 152.7h0M964.6 152.8h0M950.1 153.1h0M953.7 153.3h0M964.8 153.5h0M953.4 153.5h0M950.1 153.7h0M953.6 153.9h0M986.7 146.5h0M983.2 146.7h0M980.0 147.4h0M990.5 147.4h0M998.2 147.3h0M997.8 147.6h0M990.3 149.2h0M979.4 150.5h0M998.2 150.5h0M983.2 151.1h0M983.2 151.4h0M980.0 152.1h0M979.7 153.1h0M990.5 152.9h0M990.5 153.1h0M990.5 153.3h0M997.8 153.1h0M980.0 154.1h0M997.8 154.0h0M900.8 154.4h0M908.4 154.4h0M912.0 154.3h0M900.6 155.0h0M909.2 155.9h0M912.4 156.3h0M908.4 156.6h0M907.9 156.8h0M908.6 157.7h0M904.6 158.3h0M900.8 158.3h0M904.4 159.0h0M904.4 159.5h0M908.2 159.8h0M901.4 160.3h0M908.7 160.3h0M908.9 161.1h0M900.8 161.4h0M908.9 161.8h0M908.4 162.2h0M904.6 162.3h0M900.8 163.0h0M908.7 163.0h0M949.9 154.3h0M935.0 154.9h0M949.6 155.4h0M949.6 155.8h0M956.7 155.9h0M953.1 156.1h0M953.7 156.3h0M934.4 156.5h0M946.4 156.5h0M949.9 156.5h0M938.5 156.6h0M938.4 156.9h0M956.4 158.1h0M949.3 158.4h0M953.2 158.8h0M953.6 159.0h0M953.6 159.3h0M938.8 159.8h0M946.4 160.0h0M953.6 160.0h0M938.5 160.4h0M946.4 160.5h0M953.1 160.7h0M953.6 161.5h0M934.6 162.1h0M946.4 162.6h0M953.7 162.6h0M938.4 162.8h0M949.6 162.9h0M990.6 154.5h0M979.4 154.9h0M983.5 154.9h0M990.5 155.1h0M983.4 156.0h0M979.7 156.3h0M990.6 156.1h0M998.2 156.4h0M990.6 156.8h0M983.4 157.1h0M990.5 157.2h0M998.2 157.7h0M979.7 157.8h0M983.4 158.0h0M979.7 158.3h0M990.5 158.2h0M983.2 159.0h0M983.4 159.3h0M990.6 159.3h0M990.5 159.8h0M983.2 160.2h0M979.4 160.5h0M979.4 160.7h0M990.5 160.7h0M979.4 160.9h0M986.5 161.1h0M997.8 160.9h0M979.4 161.3h0M990.8 161.7h0M987.3 162.1h0M998.2 162.3h0M998.2 162.6h0M997.8 162.9h0M908.4 163.2h0M904.6 163.3h0M900.6 163.4h0M911.7 163.6h0M946.4 163.2h0M956.7 163.3h0M953.6 163.8h0M997.8 163.2h0M980.0 163.4h0M983.4 163.9h0M945.9 126.8h0M949.6 125.2h0M953.3 127.4h0M938.4 126.1h0M957.1 124.2h0"/>
<path d="M368.9 916.4h0M369.6 914.3h0M369.8 865.3h0M368.4 960.6h0M369.8 907.6h0M369.9 863.6h0M367.3 932.7h0M369.7 892.8h0M367.2 863.1h0M371.1 889.2h0M371.1 950.8h0M369.7 943.8h0M370.7 907.8h0M367.7 969.0h0M371.0 872.8h0M368.8 923.7h0M370.0 877.7h0M371.2 960.8h0M367.3 882.5h0M368.7 918.0h0M368.8 950.0h0M369.8 895.1h0M368.7 915.0h0M369.8 897.4h0M368.5 931.4h0M368.8 784.4h0M368.8 851.4h0M368.8 789.6h0M368.5 820.5h0M371.1 816.1h0M369.6 801.9h0M368.4 842.6h0M367.2 853.8h0M371.1 817.1h0M367.7 800.3h0M370.0 793.5h0M370.9 766.7h0M368.4 851.7h0M369.8 838.1h0M370.9 834.5h0M370.8 760.6h0M368.8 831.2h0M370.7 800.9h0M368.5 807.6h0M367.2 818.8h0M369.5 799.1h0M369.5 769.0h0M367.7 829.8h0M367.4 833.3h0M370.9 774.8h0M367.6 710.1h0M367.6 708.8h0M375.9 953.5h0M372.3 871.4h0M373.1 896.0h0M372.2 902.7h0M374.3 867.2h0M373.5 924.1h0M374.4 945.0h0M373.6 895.9h0M372.3 939.5h0M373.1 924.1h0M375.9 865.5h0M374.5 956.0h0M374.5 753.5h0M373.6 755.2h0M375.5 797.9h0M373.1 806.4h0M372.4 789.3h0M375.9 799.1h0M372.1 797.0h0M375.5 777.1h0M372.1 787.1h0M372.2 755.6h0M375.6 791.3h0M375.8 857.3h0M373.6 774.5h0M375.7 814.6h0M372.4 765.6h0M375.9 665.6h0M372.4 685.9h0M374.4 721.3h0M375.7 671.9h0M373.6 658.3h0M372.0 734.9h0M373.3 677.8h0M375.9 702.6h0M374.8 609.5h0M374.8 548.4h0M373.2 538.4h0M373.3 633.6h0M372.0 617.5h0M378.2 942.5h0M378.2 899.1h0M378.2 770.4h0M376.7 799.5h0M378.0 853.1h0M376.7 656.9h0M374.3 540.4h0M375.7 548.1h0M374.6 555.4h0M373.1 557.7h0M374.3 580.0h0M376.7 586.2h0M374.3 591.4h0M368.4 604.0h0M374.3 613.3h0M377.0 617.5h0M374.3 621.1h0M374.4 629.9h0M372.9 632.0h0M379.0 634.0h0M399.2 564.5h0M401.5 590.9h0M405.2 624.0h0M433.6 533.6h0M445.5 537.8h0M433.6 550.2h0M429.0 554.3h0M426.4 555.9h0M427.2 565.9h0M440.7 565.4h0M426.4 569.9h0M429.0 571.4h0M440.7 570.4h0M427.7 574.0h0M433.6 576.6h0M441.9 577.9h0M443.0 584.9h0M427.4 591.8h0M429.0 595.0h0M446.6 593.1h0M445.0 594.7h0M446.8 599.1h0M429.0 600.9h0M432.6 603.5h0M427.4 605.6h0M430.0 604.5h0M433.6 606.1h0M428.8 607.6h0M446.6 610.0h0M443.0 612.0h0M424.0 617.0h0M446.8 619.0h0M427.7 624.0h0M441.9 624.7h0M441.9 627.8h0M426.4 632.3h0M421.7 634.3h0M440.9 635.4h0M376.7 643.8h0M374.1 646.4h0M373.1 657.2h0M374.3 658.8h0M376.7 666.0h0M374.3 679.5h0M373.1 681.0h0M374.1 686.0h0M376.7 695.8h0M373.1 701.2h0M368.2 703.1h0M369.5 709.7h0M371.0 712.4h0M374.4 712.8h0M374.3 720.6h0M369.8 724.7h0M368.4 727.1h0M368.4 729.7h0M373.1 735.9h0M376.7 735.9h0M374.6 738.5h0M372.0 739.5h0M401.5 638.9h0M412.2 638.3h0M429.0 639.9h0M443.0 637.0h0M446.8 642.5h0M426.4 652.3h0M441.7 652.3h0M445.5 652.9h0M409.8 655.2h0M425.1 658.0h0M433.6 661.7h0M401.5 662.4h0M400.0 665.0h0M400.3 669.6h0M429.0 666.5h0M426.4 668.9h0M435.9 669.8h0M432.3 672.7h0M445.5 669.6h0M440.7 676.9h0M440.7 679.5h0M440.7 682.4h0M399.2 683.3h0M401.5 686.9h0M415.8 683.3h0M427.4 683.6h0M426.2 685.2h0M420.4 687.2h0M421.9 691.9h0M401.5 692.2h0M402.9 695.7h0M427.7 694.7h0M429.0 698.4h0M445.5 695.3h0M443.0 700.9h0M401.5 701.4h0M401.5 703.8h0M401.5 706.4h0M435.9 705.1h0M427.7 711.3h0M421.9 718.0h0M427.7 718.8h0M433.6 718.3h0M399.2 718.8h0M399.2 721.9h0M401.5 724.2h0M409.8 722.7h0M434.9 722.1h0M439.6 721.4h0M445.5 721.4h0M440.7 725.5h0M419.1 728.9h0M424.0 728.6h0M438.3 730.2h0M399.2 730.2h0M432.3 734.9h0M419.1 737.8h0M410.9 739.5h0M415.8 740.6h0M371.0 743.0h0M376.7 744.3h0M379.3 746.7h0M368.4 746.9h0M371.5 749.8h0M374.4 749.2h0M373.1 752.4h0M374.4 757.7h0M379.0 759.8h0M371.0 762.2h0M368.4 764.3h0M374.4 764.3h0M373.1 766.8h0M370.5 769.4h0M373.1 769.9h0M368.2 776.0h0M373.1 776.0h0M376.7 778.4h0M374.4 780.8h0M371.0 781.3h0M372.0 786.5h0M374.4 788.1h0M372.0 792.7h0M373.1 794.8h0M369.5 796.9h0M370.5 799.5h0M372.0 802.0h0M376.7 803.9h0M368.4 804.1h0M373.1 805.1h0M370.5 808.2h0M374.4 809.3h0M368.4 810.3h0M371.5 812.4h0M374.4 814.5h0M368.4 816.0h0M371.5 817.6h0M368.4 819.6h0M372.0 820.2h0M374.4 821.7h0M379.0 821.5h0M368.4 823.8h0M368.2 827.4h0M379.0 830.2h0M369.5 832.1h0M371.5 834.1h0M374.4 835.2h0M368.4 836.2h0M376.7 838.5h0M367.4 842.4h0M370.5 845.5h0M368.4 847.6h0M401.5 742.5h0M413.5 745.6h0M417.1 745.9h0M424.0 742.5h0M433.6 743.6h0M399.2 747.7h0M401.5 750.8h0M402.9 752.4h0M399.0 753.9h0M409.8 754.9h0M401.5 758.0h0M409.8 760.4h0M399.2 761.4h0M420.5 760.9h0M435.9 760.9h0M401.5 766.3h0M399.2 767.9h0M402.9 769.9h0M405.2 772.0h0M426.4 767.4h0M438.3 767.9h0M435.7 770.5h0M433.1 772.5h0M420.5 773.1h0M419.1 777.5h0M425.1 775.6h0M426.9 776.7h0M441.9 779.1h0M409.8 781.9h0M426.4 781.6h0M412.2 788.8h0M420.5 789.9h0M424.0 794.8h0M433.6 795.8h0M435.9 799.7h0M400.3 804.6h0M405.2 804.1h0M426.4 804.1h0M419.1 807.0h0M421.7 809.3h0M409.8 809.3h0M409.8 811.4h0M421.9 812.4h0M401.5 819.1h0M429.0 820.7h0M401.5 823.8h0M402.6 825.6h0M426.4 825.8h0M435.9 826.4h0M401.5 828.4h0M417.1 828.2h0M416.9 833.6h0M402.6 838.3h0M404.1 838.3h0M368.4 850.1h0M373.1 850.6h0M370.5 852.7h0M371.5 854.7h0M369.5 856.8h0M371.5 862.5h0M376.7 863.3h0M369.5 864.6h0M379.0 867.2h0M376.7 868.7h0M368.4 869.2h0M371.5 870.3h0M370.5 872.8h0M373.1 874.4h0M374.4 875.7h0M370.5 878.0h0M369.5 881.1h0M371.0 883.7h0M369.5 886.8h0M369.5 889.4h0M367.4 892.5h0M368.4 895.1h0M373.1 898.7h0M379.0 904.2h0M372.0 907.5h0M372.0 910.1h0M368.4 912.7h0M373.1 913.7h0M370.5 915.8h0M379.0 916.6h0M373.1 918.4h0M371.5 922.0h0M369.5 924.6h0M372.0 926.2h0M371.0 930.8h0M376.7 935.2h0M373.1 942.7h0M368.4 944.8h0M379.0 946.3h0M373.1 947.4h0M368.4 950.5h0M374.4 952.0h0M367.4 952.6h0M409.8 848.5h0M424.0 848.5h0M402.9 852.1h0M439.6 850.6h0M427.7 852.7h0M424.0 854.2h0M421.9 857.3h0M440.9 855.8h0M401.5 857.8h0M405.2 858.9h0M439.6 862.0h0M410.9 862.5h0M401.5 862.5h0M399.2 865.6h0M404.1 867.2h0M409.8 868.2h0M425.1 865.9h0M429.0 868.2h0M417.1 868.7h0M446.8 870.6h0M399.2 875.1h0M399.2 878.5h0M415.8 875.9h0M432.3 879.1h0M439.6 877.5h0M439.6 881.1h0M439.6 884.2h0M439.6 887.3h0M409.8 882.7h0M412.4 883.7h0M419.4 884.7h0M399.2 889.2h0M424.0 889.7h0M425.1 892.0h0M417.1 891.8h0M435.9 891.0h0M404.1 893.3h0M429.0 897.0h0M405.2 898.2h0M404.1 900.8h0M403.8 902.9h0M435.9 901.3h0M419.4 904.7h0M403.8 908.0h0M412.2 909.1h0M401.5 913.7h0M421.9 913.9h0M435.9 919.7h0M441.9 921.0h0M420.5 922.8h0M421.9 928.9h0M420.5 935.0h0M404.1 938.6h0M401.5 940.9h0M432.3 939.6h0M439.6 944.0h0M419.4 946.9h0M432.3 947.2h0M409.8 953.6h0M418.1 953.6h0M429.0 953.1h0M368.4 954.9h0M371.0 956.4h0M367.4 959.5h0M367.4 962.1h0M369.5 966.8h0M412.9 955.4h0M403.8 956.4h0M403.8 959.5h0M404.1 962.6h0M404.7 965.7h0M405.2 967.8h0M421.9 964.7h0M419.4 966.8h0M426.4 967.8h0M414.5 970.4h0M285.5 539.1h0M285.5 565.2h0M285.5 577.2h0M285.5 580.6h0M285.5 595.2h0M285.5 597.9h0M285.5 611.7h0M285.4 616.4h0M287.9 546.5h0M288.0 548.6h0M288.1 550.7h0M287.9 573.0h0M288.0 582.8h0M287.9 603.7h0M287.9 606.9h0M288.0 611.9h0M287.8 624.1h0M287.8 633.6h0M291.4 550.4h0M291.5 559.7h0M291.5 584.1h0M291.5 587.8h0M291.4 613.6h0M293.7 537.8h0M294.9 574.6h0M293.9 588.7h0M293.9 598.2h0M304.7 538.0h0M304.7 540.7h0M303.3 562.9h0M305.7 562.6h0M302.1 569.6h0M303.2 572.4h0M304.6 578.0h0M302.1 583.6h0M304.4 588.0h0M303.4 595.8h0M303.4 598.1h0M305.7 600.5h0M302.3 606.4h0M303.3 604.2h0M303.3 608.0h0M304.6 606.4h0M305.6 607.4h0M302.1 615.7h0M304.4 615.1h0M303.3 618.0h0M303.2 624.2h0M303.2 630.2h0M302.3 633.9h0M303.5 633.9h0M304.6 634.4h0M310.4 535.6h0M311.6 535.6h0M310.4 538.5h0M309.4 544.2h0M310.3 548.4h0M311.6 548.1h0M311.7 551.3h0M311.7 554.4h0M311.7 558.1h0M310.4 561.6h0M311.6 561.9h0M311.8 570.5h0M310.6 574.6h0M310.4 578.3h0M309.4 580.6h0M311.6 580.9h0M311.7 584.1h0M312.8 586.4h0M309.4 587.1h0M310.4 588.3h0M311.7 594.9h0M309.4 597.7h0M310.2 599.5h0M311.8 598.4h0M312.6 600.5h0M309.4 604.0h0M310.4 605.8h0M310.4 609.0h0M309.4 610.4h0M311.5 609.9h0M310.4 615.9h0M310.4 619.1h0M311.7 622.3h0M310.4 628.6h0M311.6 627.8h0M285.5 643.9h0M285.5 646.8h0M288.0 645.8h0M289.2 662.6h0M287.9 670.9h0M289.0 670.2h0M288.1 679.4h0M289.2 680.4h0M288.0 682.8h0M289.3 689.1h0M289.3 698.2h0M289.2 702.7h0M287.9 705.9h0M289.0 705.9h0M288.1 710.1h0M289.2 717.8h0M289.2 721.6h0M291.5 637.0h0M291.4 654.5h0M291.4 658.4h0M291.5 666.7h0M291.6 673.2h0M291.4 729.7h0M291.4 732.4h0M293.8 637.0h0M293.9 638.8h0M293.7 672.0h0M293.9 676.2h0M293.9 679.4h0M293.8 682.6h0M294.9 695.8h0M293.9 709.6h0M295.1 713.8h0M293.8 716.8h0M293.8 730.2h0M303.5 637.5h0M304.6 639.1h0M302.1 653.4h0M304.8 653.7h0M302.1 662.2h0M304.6 666.4h0M303.4 668.8h0M302.7 673.0h0M303.5 673.6h0M304.7 685.9h0M302.1 695.3h0M303.4 699.0h0M303.3 704.3h0M303.4 708.5h0M302.1 712.2h0M303.2 716.2h0M304.7 718.8h0M302.1 726.9h0M303.2 726.7h0M302.2 736.3h0M303.5 740.8h0M304.6 742.4h0M311.5 652.4h0M311.4 667.2h0M311.5 685.4h0M312.7 695.3h0M310.3 697.6h0M311.8 703.8h0M309.4 708.5h0M310.3 714.4h0M311.5 723.9h0M310.7 725.8h0M311.8 730.2h0M309.1 734.8h0M310.8 735.5h0M311.8 735.0h0M311.6 741.4h0M315.2 658.4h0M315.3 695.1h0M315.1 720.7h0M285.4 772.7h0M288.1 746.6h0M289.3 759.3h0M287.8 768.1h0M289.0 774.4h0M289.0 796.6h0M288.0 812.5h0M289.0 812.0h0M289.2 823.4h0M289.2 837.7h0M288.0 844.6h0M289.2 851.0h0M291.3 748.7h0M291.6 808.6h0M291.5 813.3h0M293.9 760.7h0M293.7 773.6h0M293.9 781.5h0M295.0 782.1h0M294.0 791.6h0M293.8 808.2h0M293.9 823.1h0M293.8 832.7h0M294.1 838.2h0M293.8 848.8h0M303.4 746.0h0M303.7 749.2h0M304.6 750.8h0M303.3 753.5h0M304.6 761.9h0M302.1 762.5h0M302.0 766.7h0M303.5 766.7h0M302.0 769.4h0M303.2 772.3h0M303.5 775.2h0M302.0 784.7h0M302.9 785.8h0M303.5 782.3h0M304.5 783.1h0M302.1 803.3h0M303.2 803.3h0M302.3 807.5h0M303.5 817.9h0M302.3 822.7h0M304.8 823.7h0M303.4 830.0h0M304.4 838.2h0M304.4 840.9h0M302.2 848.0h0M304.4 848.0h0M309.1 747.8h0M309.4 754.2h0M310.5 754.0h0M311.5 755.6h0M309.2 761.4h0M312.6 760.9h0M311.5 763.2h0M311.7 767.8h0M309.4 769.1h0M311.6 769.9h0M309.2 773.1h0M310.5 773.6h0M309.2 781.5h0M310.2 782.6h0M310.3 786.8h0M311.8 786.8h0M310.4 799.3h0M311.5 801.1h0M309.2 810.2h0M309.2 812.0h0M309.2 821.3h0M310.4 820.5h0M311.4 821.8h0M311.4 824.7h0M311.4 827.6h0M309.4 832.7h0M309.2 835.6h0M309.4 838.2h0M311.4 839.8h0M311.4 846.5h0M309.4 848.3h0M315.2 783.9h0M288.2 855.8h0M289.2 858.3h0M289.0 876.3h0M288.2 882.6h0M289.2 884.2h0M289.0 893.8h0M288.0 908.6h0M289.0 916.0h0M289.2 923.8h0M289.3 930.0h0M289.2 933.2h0M291.5 854.6h0M291.5 857.7h0M291.5 874.7h0M292.5 900.4h0M291.5 936.7h0M291.5 942.3h0M291.5 959.3h0M293.9 860.1h0M293.8 873.9h0M293.8 878.9h0M293.9 882.1h0M295.0 883.5h0M293.8 911.6h0M294.9 915.5h0M293.8 934.0h0M293.9 958.2h0M304.7 861.7h0M303.2 869.9h0M304.6 871.5h0M302.3 884.2h0M303.2 905.7h0M302.0 908.6h0M302.1 912.3h0M302.4 919.9h0M302.3 927.1h0M302.3 929.3h0M304.4 950.1h0M303.5 956.8h0M311.4 854.0h0M310.2 863.6h0M311.5 868.9h0M310.3 873.4h0M309.3 899.3h0M309.1 903.5h0M309.4 913.7h0M310.3 935.3h0M309.1 942.2h0M311.9 946.0h0M311.5 955.2h0M303.5 963.5h0M302.3 970.0h0M309.2 963.3h0M310.3 964.9h0M322.4 532.0h0M319.8 534.3h0M321.2 535.9h0M317.3 540.7h0M317.3 542.8h0M319.9 540.1h0M321.1 539.1h0M321.2 543.8h0M322.4 542.2h0M319.8 550.7h0M319.8 554.4h0M319.9 558.7h0M322.2 552.6h0M323.5 552.3h0M324.8 550.7h0M317.5 562.7h0M319.9 563.8h0M317.6 570.9h0M322.2 574.9h0M319.8 577.7h0M322.4 580.2h0M322.3 585.9h0M318.8 589.4h0M319.9 593.6h0M324.8 592.1h0M315.1 597.9h0M317.6 600.3h0M317.5 604.2h0M319.9 601.1h0M321.1 601.1h0M322.2 600.9h0M323.4 601.4h0M319.9 606.1h0M319.9 608.0h0M322.2 606.4h0M317.5 609.3h0M315.1 608.8h0M317.5 615.2h0M317.6 620.1h0M322.4 612.7h0M322.3 615.9h0M321.1 618.3h0M322.4 618.9h0M319.8 620.9h0M317.6 629.7h0M319.9 629.1h0M319.8 630.7h0M317.5 633.4h0M322.2 632.3h0M322.2 634.4h0M317.6 637.5h0M322.3 637.0h0M320.0 640.2h0M317.6 643.3h0M317.6 646.7h0M321.0 647.1h0M318.8 650.6h0M320.0 650.8h0M317.7 656.1h0M319.8 656.3h0M317.5 660.8h0M317.4 673.8h0M317.5 678.1h0M317.6 685.9h0M321.2 671.7h0M322.4 672.0h0M322.2 676.4h0M324.8 675.1h0M324.7 679.1h0M321.2 682.6h0M323.3 682.3h0M322.2 685.4h0M319.8 697.4h0M320.0 700.0h0M324.6 697.1h0M323.2 698.5h0M322.4 705.9h0M324.7 705.9h0M323.5 706.9h0M322.3 710.1h0M324.5 709.9h0M317.6 712.0h0M319.8 718.1h0M322.4 718.1h0M324.8 718.4h0M324.5 721.2h0M321.2 723.9h0M322.3 724.9h0M321.2 728.1h0M323.3 729.2h0M324.6 728.7h0M324.8 732.6h0M321.2 738.5h0M320.0 740.0h0M323.4 748.7h0M321.2 751.5h0M323.3 752.4h0M317.6 757.0h0M322.4 757.7h0M323.5 756.6h0M320.0 758.8h0M324.4 762.1h0M322.3 764.1h0M323.5 764.6h0M321.2 767.8h0M322.4 767.8h0M324.5 766.2h0M323.5 768.8h0M322.3 770.9h0M319.9 770.9h0M317.7 775.2h0M321.2 776.2h0M323.4 776.2h0M323.3 779.4h0M324.8 781.5h0M319.7 783.7h0M322.1 787.4h0M319.8 789.5h0M320.6 791.6h0M319.7 794.3h0M321.2 794.8h0M324.8 796.4h0M324.7 799.6h0M322.1 803.3h0M323.1 802.7h0M325.7 804.9h0M319.9 809.4h0M317.5 814.9h0M317.6 824.5h0M317.5 827.1h0M317.5 829.8h0M324.6 825.8h0M323.3 830.8h0M321.0 832.9h0M324.5 835.4h0M317.6 838.8h0M323.4 844.1h0M321.2 847.2h0M324.8 847.5h0M323.3 849.4h0M317.5 851.0h0M323.1 852.0h0M322.4 855.1h0M324.8 854.3h0M317.7 862.3h0M321.3 862.5h0M322.4 863.8h0M323.4 864.6h0M324.5 862.5h0M323.4 873.6h0M324.8 876.3h0M317.5 877.3h0M317.5 880.0h0M317.5 884.8h0M321.2 879.5h0M321.0 884.5h0M323.4 883.5h0M325.8 888.7h0M321.3 893.0h0M323.5 894.0h0M324.5 893.2h0M322.1 898.0h0M320.2 903.5h0M321.1 903.3h0M320.9 907.5h0M322.6 905.4h0M323.5 907.5h0M317.7 906.5h0M317.7 909.7h0M323.6 912.3h0M322.0 913.7h0M324.8 917.6h0M321.3 927.7h0M324.5 929.5h0M324.8 932.4h0M322.1 933.2h0M320.9 937.7h0M323.4 951.0h0M324.8 949.9h0M324.5 959.5h0M321.1 961.6h0M321.0 964.9h0M317.7 969.1h0M347.1 544.4h0M349.5 556.7h0M350.6 556.5h0M338.8 590.0h0M345.9 589.1h0M347.3 589.1h0M350.7 593.6h0M350.7 622.6h0M351.9 648.7h0M338.8 662.9h0M351.9 663.5h0M335.2 669.9h0M347.1 673.7h0M349.5 675.4h0M351.9 677.1h0M337.6 686.8h0M336.4 691.7h0M350.8 691.5h0M351.9 691.7h0M347.1 693.8h0M335.3 697.4h0M347.1 699.5h0M351.7 704.2h0M337.6 709.7h0M350.7 710.8h0M338.8 713.7h0M363.7 712.7h0M347.4 720.1h0M349.5 719.7h0M335.3 723.7h0M337.6 725.6h0M338.8 724.3h0M363.7 726.5h0M336.4 730.5h0M338.8 732.8h0M349.5 737.7h0M347.1 739.8h0M347.1 741.9h0M351.9 742.6h0M338.8 743.6h0M337.6 757.6h0M335.3 771.8h0M337.5 772.1h0M338.8 774.9h0M335.2 785.1h0M337.6 788.0h0M337.7 790.1h0M335.2 800.2h0M337.8 803.3h0M335.4 805.1h0M337.6 807.0h0M336.4 818.4h0M335.4 820.8h0M338.8 831.1h0M335.2 839.7h0M337.7 842.5h0M335.4 845.5h0M335.1 753.5h0M336.5 750.9h0M336.5 747.4h0M349.6 757.6h0M351.8 762.7h0M350.8 763.8h0M347.0 768.2h0M349.7 777.7h0M351.8 779.0h0M346.0 780.9h0M349.7 784.3h0M351.0 789.0h0M351.8 789.9h0M350.9 793.8h0M353.1 796.4h0M351.9 797.0h0M347.1 798.0h0M347.1 801.2h0M347.1 803.9h0M347.2 806.3h0M350.7 803.7h0M355.5 804.6h0M349.6 817.1h0M351.7 817.9h0M349.7 824.7h0M351.9 828.0h0M349.6 829.6h0M347.2 832.5h0M355.5 834.3h0M350.9 838.0h0M352.0 839.9h0M355.5 842.2h0M351.9 842.5h0M350.9 844.9h0M352.0 847.3h0M362.5 757.0h0M361.4 759.4h0M360.4 768.0h0M363.7 767.1h0M366.1 765.7h0M366.0 770.0h0M363.6 790.1h0M360.2 805.7h0M366.1 804.9h0M361.4 812.9h0M361.4 816.6h0M360.4 824.7h0M360.3 837.6h0M363.7 834.6h0M363.7 837.2h0M363.7 839.9h0M366.0 836.9h0M360.4 849.8h0M366.0 848.4h0M335.2 853.6h0M337.6 853.0h0M338.8 852.5h0M335.1 861.0h0M337.9 871.8h0M338.9 877.2h0M337.6 880.1h0M337.4 882.7h0M337.7 894.4h0M336.4 900.7h0M335.2 901.0h0M336.3 909.4h0M336.3 916.3h0M337.5 920.1h0M335.4 925.6h0M337.7 925.3h0M337.8 935.0h0M335.2 939.7h0M337.8 944.0h0M337.6 948.9h0M336.4 950.5h0M335.2 958.3h0M337.7 958.3h0M350.8 852.7h0M346.1 859.4h0M350.7 865.4h0M350.7 870.5h0M352.9 871.3h0M351.8 874.2h0M352.0 876.9h0M345.9 878.8h0M349.7 879.0h0M350.8 879.3h0M347.2 880.3h0M347.2 884.5h0M352.9 898.4h0M350.6 901.8h0M351.8 907.3h0M352.0 909.7h0M352.0 912.9h0M347.3 919.8h0M349.7 921.7h0M352.0 922.2h0M347.2 927.4h0M349.7 928.5h0M351.8 930.9h0M352.0 940.8h0M346.0 948.2h0M349.7 954.0h0M352.0 953.7h0M347.2 956.9h0M350.7 958.0h0M363.7 855.2h0M360.2 859.4h0M361.5 859.4h0M363.7 861.7h0M361.5 873.0h0M360.3 876.0h0M363.7 874.2h0M366.1 877.7h0M363.7 882.9h0M361.5 886.4h0M363.7 887.3h0M366.1 893.8h0M360.3 895.1h0M361.5 897.2h0M360.3 900.9h0M363.7 900.2h0M361.4 909.4h0M361.5 913.4h0M363.7 914.0h0M363.7 919.8h0M361.4 924.0h0M360.2 928.0h0M360.2 930.6h0M363.7 930.2h0M360.2 933.6h0M362.4 935.2h0M366.0 933.6h0M360.2 938.3h0M363.8 943.1h0M362.7 948.2h0M366.1 950.5h0M366.1 953.7h0M366.0 957.4h0M337.6 961.2h0M336.4 962.8h0M335.1 963.8h0M338.6 965.7h0M349.7 960.6h0M352.9 962.8h0M352.0 968.1h0M366.0 960.6h0M360.4 963.8h0M361.5 970.2h0"/>
<path d="M788.0 646.1h0M788.1 645.6h0M788.1 646.1h0M790.7 646.9h0M790.6 648.8h0M790.8 641.0h0M790.7 645.7h0M790.7 646.8h0M790.8 645.7h0M790.7 643.6h0M791.9 683.7h0M791.8 687.8h0M792.0 684.4h0M791.9 688.1h0M792.0 687.1h0M797.0 685.5h0M794.2 685.9h0M797.0 684.1h0M794.3 685.6h0M794.4 689.1h0M794.5 685.0h0M794.3 683.1h0M794.2 647.9h0M794.3 644.6h0M794.5 649.2h0M796.9 646.1h0M794.3 648.6h0M808.1 686.6h0M806.9 686.9h0M805.7 684.2h0M807.0 697.1h0M807.1 689.2h0M805.7 683.8h0M805.8 686.7h0M805.8 683.2h0M808.1 688.7h0M808.0 683.3h0M808.1 684.6h0M808.2 688.2h0M808.1 690.0h0M806.9 687.0h0M805.8 686.5h0M808.2 691.4h0M808.3 688.2h0M808.1 686.7h0M808.1 687.4h0M808.1 689.2h0M807.1 683.5h0M808.1 692.0h0M807.0 683.2h0M805.6 685.4h0M805.8 688.2h0M805.6 694.3h0M808.1 692.8h0M805.6 691.0h0M807.1 688.7h0M805.8 689.4h0M805.6 687.8h0M807.1 647.0h0M808.2 649.5h0M807.0 648.6h0M808.1 647.3h0M808.2 647.3h0M806.9 649.0h0M808.1 645.4h0M805.7 649.7h0M807.0 647.5h0M807.0 646.6h0M807.0 649.9h0M805.6 650.1h0M807.0 647.9h0M805.6 647.7h0M805.7 647.3h0M805.7 647.1h0M808.3 650.2h0M807.0 649.7h0M808.2 648.0h0M806.9 648.3h0M812.8 693.9h0M815.3 686.5h0M812.8 688.5h0M812.8 687.8h0M814.3 687.9h0M812.9 690.0h0M815.3 688.9h0M814.3 685.8h0M815.3 693.0h0M815.3 689.8h0M812.8 689.0h0M815.4 696.5h0M812.8 686.8h0M815.4 693.0h0M813.0 684.3h0M815.2 686.3h0M814.3 685.3h0M814.4 686.4h0M814.2 685.9h0M814.3 689.1h0M812.9 686.2h0M814.2 687.4h0M814.3 683.9h0M815.3 683.8h0M812.8 689.6h0M814.3 691.3h0M814.3 684.8h0M815.3 688.0h0M814.3 685.2h0M814.3 687.5h0M812.9 648.8h0M812.9 649.9h0M814.2 647.6h0M812.8 645.9h0M814.4 648.5h0M813.0 643.2h0M815.3 647.9h0M815.3 647.4h0M814.1 643.4h0M812.8 638.7h0M812.8 642.1h0M815.4 647.4h0M814.2 642.4h0M814.2 649.8h0M812.9 646.7h0M812.9 647.2h0M815.4 645.0h0M813.0 646.0h0M812.9 642.4h0M812.9 644.8h0M814.2 645.8h0M812.8 640.9h0M812.9 644.1h0M815.2 648.2h0M813.0 645.0h0M812.8 639.3h0M815.3 639.3h0M814.1 643.9h0M815.3 648.4h0M815.2 647.3h0M814.3 641.0h0M813.0 649.9h0M812.8 647.0h0M814.2 649.6h0M812.8 649.8h0M814.2 643.9h0M812.8 643.9h0M814.4 644.3h0M815.3 649.3h0M814.3 650.0h0M812.8 650.0h0M812.8 649.3h0M814.2 649.0h0M814.3 649.8h0M815.3 642.8h0M812.9 649.4h0M812.8 641.0h0M814.3 647.4h0M814.3 645.0h0M815.3 645.9h0M815.4 642.4h0M815.2 642.2h0M814.4 644.4h0M815.4 639.8h0M814.3 647.8h0M821.5 690.6h0M821.5 698.0h0M821.6 683.1h0M821.6 691.4h0M821.7 693.5h0M821.5 686.8h0M821.5 686.9h0M821.5 692.8h0M821.6 692.7h0M821.7 685.0h0M821.5 684.3h0M821.5 684.5h0M821.6 690.9h0M826.6 698.8h0M824.2 687.6h0M824.2 688.3h0M827.9 695.2h0M824.2 684.6h0M825.5 684.1h0M827.8 685.4h0M827.7 684.9h0M827.8 683.5h0M824.0 689.5h0M824.0 686.0h0M827.8 689.9h0M825.4 683.4h0M826.7 687.0h0M824.0 693.7h0M824.1 688.0h0M824.0 683.4h0M827.9 683.5h0M825.4 686.1h0M825.5 686.9h0M829.1 688.6h0M825.6 695.1h0M829.1 688.8h0M826.5 695.4h0M826.6 686.2h0M825.4 683.4h0M826.7 688.7h0M825.5 686.7h0M826.4 690.8h0M829.3 694.4h0M827.9 687.2h0M826.5 690.6h0M828.0 687.3h0M824.1 689.6h0M825.6 683.2h0M826.5 695.0h0M829.1 695.7h0M827.8 687.0h0M829.2 685.2h0M826.6 694.4h0M829.2 687.3h0M826.6 683.6h0M829.1 686.8h0M829.0 686.9h0M827.8 693.7h0M825.4 649.0h0M825.4 648.6h0M826.6 645.8h0M825.6 642.9h0M829.1 648.2h0M825.4 646.8h0M825.4 648.4h0M825.5 643.6h0M826.6 649.2h0M826.6 645.0h0M824.0 646.1h0M826.4 646.6h0M829.1 649.4h0M824.0 648.3h0M829.2 647.4h0M825.6 648.4h0M825.6 645.8h0M829.1 646.7h0M826.4 649.4h0M829.2 644.3h0M824.2 648.4h0M826.6 649.0h0M824.2 647.2h0M826.6 646.2h0M827.9 649.0h0M824.1 648.9h0M825.4 650.1h0M829.2 644.0h0M827.9 649.2h0M826.6 648.4h0M826.6 650.0h0M824.1 644.6h0M826.4 648.0h0M829.0 648.8h0M826.4 647.2h0M824.1 648.5h0M829.3 642.3h0M841.4 690.5h0M840.1 690.4h0M840.0 700.9h0M841.5 686.3h0M840.1 689.5h0M840.1 685.8h0M842.7 714.1h0M842.7 695.9h0M843.8 710.7h0M843.8 709.4h0M841.5 703.9h0M843.8 686.3h0M840.0 713.1h0M842.8 711.3h0M843.9 689.1h0M840.1 707.1h0M843.9 716.6h0M840.1 687.4h0M840.1 700.4h0M842.8 684.5h0M843.7 694.4h0M841.3 689.6h0M840.1 701.8h0M841.5 689.3h0M840.1 705.7h0M842.6 695.9h0M840.0 715.0h0M840.1 711.1h0M843.9 711.0h0M840.1 692.9h0M842.7 694.7h0M841.3 711.8h0M840.0 700.2h0M841.3 684.7h0M840.1 709.6h0M843.7 707.1h0M843.8 700.1h0M842.8 683.2h0M841.5 698.1h0M843.9 684.8h0M840.1 698.1h0M840.2 697.1h0M840.1 693.7h0M841.4 694.9h0M842.8 707.0h0M840.1 686.8h0M843.8 699.5h0M841.4 694.5h0M843.9 691.7h0M842.6 690.2h0M840.1 688.6h0M843.8 703.5h0M841.5 699.0h0M842.7 714.3h0M842.6 707.7h0M841.3 684.5h0M841.4 710.1h0M841.4 698.2h0M842.6 690.1h0M842.6 709.1h0M841.5 689.1h0M843.8 712.3h0M840.1 701.8h0M843.7 701.4h0M841.4 699.6h0M840.1 708.1h0M842.6 714.9h0M841.4 701.9h0M841.5 684.1h0M842.7 695.4h0M842.6 714.6h0M843.8 697.0h0M840.2 705.2h0M842.7 694.6h0M843.9 698.2h0M841.5 701.3h0M843.8 695.0h0M841.4 689.4h0M842.7 709.0h0M841.4 695.0h0M842.7 691.7h0M842.7 694.8h0M840.1 690.9h0M840.2 686.2h0M842.8 715.0h0M840.2 688.0h0M843.8 683.5h0M842.7 698.6h0M840.2 697.4h0M843.8 717.3h0M843.8 696.2h0M843.7 695.5h0M840.2 709.1h0M840.2 686.2h0M840.2 707.5h0M851.4 689.1h0M851.4 686.9h0M852.8 694.9h0M852.8 696.6h0M852.7 698.8h0M851.4 702.4h0M851.4 688.9h0M851.4 692.3h0M851.4 686.9h0M851.3 687.9h0M852.7 686.3h0M852.7 685.0h0M852.6 694.5h0M852.8 701.1h0M851.4 695.5h0M851.4 685.7h0M852.8 687.1h0M852.6 689.9h0M851.4 701.3h0M851.5 702.4h0M851.3 684.0h0M856.5 687.1h0M856.3 686.4h0M858.9 697.3h0M857.6 698.7h0M857.7 699.6h0M858.9 691.8h0M857.5 685.6h0M858.9 684.3h0M857.5 683.6h0M858.8 699.4h0M857.5 690.5h0M859.0 686.1h0M857.6 688.0h0M855.2 684.2h0M857.6 701.1h0M856.3 690.2h0M858.8 692.7h0M858.8 691.3h0M858.8 689.7h0M856.4 684.7h0M856.3 688.4h0M859.0 698.2h0M855.0 691.8h0M857.7 689.4h0M856.4 695.5h0M855.2 689.4h0M858.9 695.6h0M855.2 688.8h0M856.5 696.6h0M856.3 694.9h0M856.4 690.0h0M858.7 690.1h0M858.8 690.5h0M855.2 697.0h0M858.9 690.1h0M856.4 702.2h0M857.5 688.3h0M856.4 698.7h0M856.3 687.3h0M856.4 687.9h0M857.7 702.8h0M856.4 701.7h0M858.9 696.4h0M858.8 683.0h0M855.2 694.8h0M855.0 689.0h0M856.3 683.4h0M856.3 692.8h0M855.2 692.4h0M857.5 684.8h0M855.0 693.3h0M856.4 683.9h0M856.3 687.0h0M857.6 691.6h0M858.8 690.0h0M857.5 685.5h0M856.4 685.9h0M856.3 691.0h0M857.5 702.4h0M856.2 684.4h0M857.7 687.7h0M855.1 688.7h0M858.9 683.4h0M858.9 689.1h0M856.5 690.8h0M855.2 693.9h0M857.7 689.2h0M856.4 684.5h0M867.5 696.2h0M866.4 703.7h0M866.2 702.7h0M866.3 711.7h0M867.7 697.4h0M872.5 689.6h0M866.2 683.1h0M866.3 692.0h0M870.0 704.4h0M867.6 697.2h0M867.5 684.9h0M866.2 701.2h0M870.1 709.8h0M867.5 689.6h0M872.7 710.4h0M872.5 689.2h0M867.5 685.6h0M872.5 703.1h0M870.1 717.0h0M866.3 701.6h0M872.7 689.0h0M867.5 703.3h0M870.1 704.0h0M871.2 690.1h0M867.6 687.4h0M870.1 705.7h0M867.5 712.6h0M867.5 686.1h0M867.5 707.9h0M872.7 703.2h0M871.4 707.4h0M867.6 693.6h0M867.7 702.2h0M867.5 696.3h0M866.4 684.3h0M872.6 692.8h0M867.5 707.4h0M869.9 690.8h0M866.3 696.4h0M872.6 698.4h0M870.0 709.4h0M872.5 684.7h0M866.2 702.1h0M867.7 686.9h0M870.1 715.9h0M867.5 714.7h0M872.6 694.5h0M870.0 705.8h0M872.5 691.8h0M872.7 683.5h0M866.4 692.1h0M872.6 709.5h0M866.2 684.0h0M867.6 693.8h0M869.9 695.8h0M872.6 687.1h0M867.5 690.0h0M866.3 701.9h0M866.2 711.3h0M872.5 703.1h0M866.2 689.9h0M871.3 700.0h0M871.2 703.4h0M872.7 701.1h0M872.6 699.5h0M867.6 687.2h0M872.7 692.0h0M867.7 703.4h0M867.6 685.6h0M867.5 700.0h0M866.3 687.3h0M872.6 687.8h0M866.3 688.1h0M872.5 693.8h0M871.3 690.5h0M870.1 692.4h0M867.5 695.8h0M867.4 706.9h0M872.7 700.5h0M872.6 692.2h0M866.3 699.1h0M870.0 699.8h0M872.5 686.2h0M866.3 690.5h0M869.9 709.3h0M871.3 691.5h0M867.5 701.6h0M867.6 684.0h0M872.7 690.1h0M870.0 694.9h0M872.5 693.9h0M871.3 695.0h0M867.5 687.8h0M866.4 704.1h0M870.1 695.9h0M867.6 685.4h0M866.2 702.8h0M866.3 689.3h0M872.7 706.1h0M871.3 717.2h0M872.6 696.5h0M866.3 690.5h0M870.1 701.6h0M866.4 689.7h0M872.6 694.5h0M870.0 693.1h0M866.3 687.9h0M872.5 689.8h0M867.5 703.6h0M872.5 694.2h0M867.6 712.8h0M871.3 703.2h0M870.0 690.4h0M870.1 691.2h0M867.6 710.6h0M872.6 712.4h0M872.5 699.4h0M872.6 695.8h0M866.4 689.3h0M870.0 708.4h0M869.9 703.2h0M867.6 698.1h0M870.0 699.3h0M872.6 710.7h0M871.2 714.0h0M870.1 690.8h0M867.5 698.7h0M870.0 683.9h0M866.3 712.7h0M867.6 715.0h0M870.1 688.4h0M870.0 693.5h0M866.3 694.7h0M867.6 714.8h0M872.7 685.6h0M867.5 697.4h0M866.2 700.5h0M870.0 684.8h0M867.6 707.0h0M870.2 709.5h0M866.3 697.7h0M871.3 702.1h0M867.5 708.1h0M866.4 686.2h0M870.1 686.9h0M870.0 697.7h0M867.5 700.6h0M867.5 714.1h0M872.6 689.8h0M870.1 692.5h0M875.4 678.9h0M876.1 678.8h0M876.4 675.1h0M874.9 682.2h0M876.4 678.3h0M876.4 675.0h0M873.7 680.1h0M876.2 677.2h0M873.6 674.9h0M877.8 676.9h0M877.7 681.5h0M876.3 681.0h0M877.3 678.3h0M874.1 682.9h0M877.6 675.7h0M875.3 679.5h0M876.5 676.0h0M877.8 682.2h0M873.7 676.4h0M875.2 679.0h0M875.3 681.4h0M876.4 677.3h0M875.2 678.8h0M876.4 677.5h0M875.0 680.0h0M875.3 669.1h0M875.3 674.1h0M875.3 669.5h0M875.0 671.8h0M877.8 671.4h0M876.2 670.4h0M874.9 673.4h0M873.7 674.3h0M877.7 671.5h0M874.1 670.3h0M876.6 669.7h0M877.6 667.7h0M874.9 674.1h0M876.3 673.1h0M877.5 672.8h0M877.4 667.3h0M875.4 672.6h0M877.3 670.3h0M875.0 670.8h0M873.6 671.6h0M876.1 670.2h0M876.1 667.9h0M874.2 672.5h0M873.9 672.7h0M877.5 668.3h0M874.1 663.5h0M874.0 663.4h0M877.4 708.9h0M877.9 706.9h0M876.4 704.0h0M874.0 707.5h0M873.7 695.7h0M875.2 707.7h0M873.9 693.7h0M874.9 686.1h0M873.9 696.7h0M877.7 692.6h0M873.8 695.2h0M877.9 712.4h0M877.8 710.8h0M877.8 707.2h0M877.4 698.3h0M876.4 702.0h0M876.4 685.5h0M874.0 686.1h0M874.2 700.9h0M875.1 706.1h0M877.5 714.3h0M875.0 708.8h0M874.8 696.8h0M876.4 684.1h0M877.3 684.0h0M875.2 686.3h0M874.9 700.9h0M875.4 706.9h0M877.8 697.5h0M875.4 701.0h0M873.6 694.1h0M876.4 686.8h0M875.2 701.3h0M873.9 685.7h0M877.8 695.0h0M873.8 689.8h0M877.9 699.8h0M876.3 698.8h0M877.5 710.9h0M877.4 711.4h0M873.9 694.4h0M877.4 712.6h0M875.4 693.2h0M873.9 712.2h0M873.9 686.7h0M874.1 702.5h0M875.2 685.9h0M877.3 685.8h0M877.6 687.1h0M875.3 706.3h0M874.9 693.7h0M874.1 684.1h0M876.2 702.4h0M875.4 698.2h0M876.1 693.9h0M876.1 700.2h0M876.2 684.6h0M875.2 696.5h0M874.9 694.9h0M875.0 689.5h0M875.1 692.2h0M876.6 683.7h0M877.8 694.5h0M875.4 694.7h0M874.0 700.2h0M875.1 684.9h0M876.3 686.4h0M877.5 685.9h0M876.1 695.5h0M876.6 690.5h0M874.9 706.6h0M873.9 684.3h0M873.8 700.7h0M877.8 702.2h0M875.1 694.7h0M875.3 702.6h0M876.5 686.4h0M875.2 701.1h0M875.3 696.3h0M876.3 710.4h0M873.8 689.6h0M876.2 695.6h0M873.8 696.9h0M876.6 703.7h0M876.3 689.9h0M874.8 687.3h0M876.3 686.2h0M877.9 685.7h0M875.1 713.7h0M876.4 685.5h0M877.4 694.2h0M873.7 703.9h0M875.3 690.5h0M873.6 687.5h0M876.5 695.0h0M874.2 688.3h0M876.4 693.3h0M876.2 685.1h0M877.7 683.9h0M876.1 695.4h0M876.1 707.2h0M875.1 708.6h0M875.0 695.9h0M873.9 700.2h0M874.8 689.5h0M876.2 685.9h0M874.9 702.6h0M875.3 685.2h0M874.1 692.8h0M874.0 690.2h0M876.5 690.4h0M875.3 690.4h0M874.9 697.1h0M876.6 696.5h0M876.1 692.8h0M875.2 696.8h0M874.0 691.6h0M877.6 683.7h0M876.4 690.2h0M873.6 706.8h0M873.6 708.2h0M877.6 704.0h0M876.5 707.9h0M877.9 689.6h0M875.3 689.1h0M875.3 685.4h0M876.2 706.0h0M873.6 693.4h0M877.5 700.2h0M877.6 703.0h0M874.9 705.1h0M876.2 692.0h0M875.0 696.1h0M877.9 709.2h0M875.2 683.1h0M876.2 689.5h0M875.4 687.4h0M875.0 684.6h0M876.3 683.9h0M874.0 694.5h0M877.8 684.8h0M873.7 694.9h0M882.8 681.7h0M879.0 675.6h0M879.9 677.4h0M878.9 677.9h0M881.0 675.3h0M880.3 679.5h0M881.2 681.1h0M880.3 677.4h0M879.0 680.6h0M879.9 679.5h0M882.8 675.1h0M881.3 681.9h0M881.3 666.8h0M880.3 666.9h0M882.4 670.1h0M879.9 670.7h0M879.1 669.4h0M882.8 670.2h0M878.8 670.0h0M882.3 668.5h0M878.7 669.3h0M878.9 666.9h0M882.5 669.6h0M882.7 674.5h0M880.4 668.3h0M882.5 671.3h0M879.1 667.7h0M882.7 660.2h0M879.1 661.7h0M881.1 664.4h0M882.5 660.7h0M880.4 659.7h0M878.6 665.4h0M880.0 661.1h0M882.7 663.0h0M881.6 656.0h0M881.6 651.4h0M879.9 650.7h0M880.1 657.8h0M878.7 656.6h0M880.2 692.8h0M880.1 686.5h0M881.3 690.4h0M879.1 691.3h0M882.7 688.6h0M882.8 701.6h0M878.9 701.5h0M878.8 686.6h0M881.5 688.0h0M881.4 700.5h0M879.8 700.0h0M881.6 699.8h0M881.3 686.5h0M881.4 691.1h0M882.6 697.7h0M880.1 705.5h0M880.0 694.8h0M878.8 692.3h0M879.0 691.6h0M882.7 685.4h0M880.3 709.3h0M880.0 684.5h0M881.5 687.4h0M880.3 704.2h0M880.4 683.7h0M881.5 689.9h0M881.3 689.0h0M881.3 701.7h0M880.0 688.0h0M881.0 703.0h0M878.6 693.9h0M882.7 689.0h0M880.1 686.1h0M878.8 687.7h0M880.2 685.6h0M878.8 689.3h0M878.8 695.8h0M882.6 685.3h0M881.2 683.6h0M880.1 701.9h0M881.4 688.5h0M881.1 685.9h0M880.0 695.2h0M881.6 683.3h0M880.2 704.6h0M878.8 698.9h0M882.3 704.6h0M881.2 690.1h0M878.6 696.1h0M881.6 684.0h0M881.3 687.1h0M878.6 683.5h0M880.1 705.8h0M878.9 690.1h0M880.0 698.8h0M880.2 700.5h0M882.8 686.1h0M882.4 692.0h0M879.9 685.4h0M880.2 702.2h0M878.9 688.1h0M879.0 695.3h0M881.5 695.2h0M882.8 699.1h0M880.3 689.0h0M881.5 698.0h0M880.0 693.0h0M878.7 684.2h0M882.3 697.8h0M882.4 689.1h0M880.3 698.9h0M879.8 693.9h0M881.5 687.6h0M880.1 691.1h0M879.2 649.0h0M879.0 649.1h0M880.0 648.8h0M885.1 680.9h0M885.2 677.6h0M885.2 668.0h0M883.6 670.2h0M885.0 674.2h0M883.6 659.5h0M886.1 683.2h0M884.8 686.5h0M884.8 686.1h0M885.0 688.9h0M885.1 686.7h0M884.1 696.7h0M884.9 686.2h0M883.9 683.4h0M885.1 686.4h0M883.9 690.4h0M914.7 684.1h0M912.6 683.9h0M911.6 687.9h0M911.7 701.9h0M913.1 740.4h0M916.4 722.9h0M915.8 695.0h0M916.4 727.3h0M915.4 692.4h0M913.1 701.2h0M914.9 694.0h0M914.0 686.4h0M911.5 720.4h0M911.4 742.3h0M913.1 699.0h0M911.9 691.4h0M913.6 695.0h0M913.6 686.5h0M915.9 691.3h0M912.8 729.2h0M912.5 689.6h0M915.1 698.0h0M912.6 703.7h0M913.6 710.3h0M914.9 741.3h0M914.7 684.6h0M911.8 711.2h0M911.9 722.0h0M911.4 703.4h0M912.9 716.1h0M915.8 687.5h0M913.7 707.7h0M916.0 724.2h0M913.7 705.2h0M913.9 685.5h0M912.9 744.6h0M914.2 702.2h0M912.7 745.6h0M916.0 691.5h0M915.9 737.8h0M912.6 742.0h0M916.2 683.4h0M913.1 695.7h0M913.8 716.5h0M916.5 717.0h0M915.9 722.7h0M912.4 685.7h0M914.9 729.5h0M913.0 686.9h0M916.1 691.0h0M915.0 689.0h0M916.0 693.1h0M916.0 709.5h0M913.6 703.2h0M911.5 740.2h0M916.3 697.4h0M916.3 699.9h0M916.1 730.6h0M913.1 743.3h0M914.0 715.4h0M915.8 734.3h0M915.1 693.9h0M913.8 726.0h0M913.8 737.4h0M911.4 683.3h0M912.7 695.5h0M914.9 733.0h0M915.0 709.0h0M913.1 684.4h0M914.0 688.8h0M915.2 698.0h0M916.3 690.9h0M913.5 713.9h0M912.0 689.9h0M915.4 715.2h0M923.9 685.8h0M918.9 721.5h0M919.8 683.3h0M923.5 708.2h0M923.8 688.8h0M919.6 703.4h0M919.6 683.4h0M918.5 698.8h0M924.7 724.8h0M922.3 697.8h0M923.6 701.5h0M918.8 708.7h0M919.9 691.6h0M923.8 713.3h0M920.3 688.5h0M921.1 683.6h0M917.5 712.6h0M924.0 688.0h0M922.4 697.4h0M918.6 709.4h0M921.3 696.2h0M922.8 690.6h0M919.7 717.3h0M922.4 708.1h0M917.4 711.4h0M920.0 696.1h0M921.1 698.1h0M922.6 705.6h0M924.0 723.0h0M922.8 714.3h0M922.2 712.1h0M917.6 683.1h0M919.9 708.4h0M921.5 715.9h0M922.1 712.8h0M924.9 686.7h0M924.0 712.4h0M919.9 697.8h0M919.9 687.2h0M917.7 720.3h0M917.5 717.9h0M922.5 708.7h0M923.5 695.2h0M925.1 696.8h0M920.0 692.8h0M917.6 693.9h0M924.6 722.2h0M921.1 701.7h0M919.8 701.8h0M917.6 698.8h0M923.9 686.8h0M919.9 702.9h0M922.5 684.4h0M923.9 704.5h0M923.5 683.7h0M925.0 696.4h0M918.6 688.6h0M924.8 683.5h0M917.3 696.7h0M922.7 709.3h0M923.4 687.7h0M921.4 689.9h0M918.4 701.7h0M921.3 700.8h0M920.1 697.6h0M923.5 706.3h0M918.7 697.4h0M918.9 692.0h0M922.8 703.0h0M920.0 689.3h0M923.4 684.5h0M920.9 713.2h0M918.4 693.0h0M919.0 698.7h0M922.6 694.2h0M917.7 712.5h0M919.8 702.5h0M918.7 692.2h0M924.7 709.0h0M917.9 700.1h0M923.8 693.6h0M917.7 696.1h0M918.6 693.7h0M925.2 707.7h0M918.7 690.4h0M922.1 690.3h0M921.2 699.9h0M922.2 710.0h0M922.3 704.2h0M918.8 722.8h0M922.6 696.5h0M924.7 689.0h0M923.6 685.1h0M917.6 714.0h0M922.3 685.7h0M917.3 686.3h0M920.9 704.0h0M924.0 700.2h0M917.6 701.7h0M923.4 721.2h0M924.8 694.8h0M922.4 696.8h0M918.6 684.3h0M918.7 695.5h0M920.3 691.3h0M923.1 730.4h0M923.7 729.8h0M921.9 691.4h0M923.2 686.7h0M923.2 704.7h0M926.0 696.1h0M926.3 701.2h0M926.3 685.9h0M927.5 698.3h0M927.7 683.2h0M926.2 702.9h0M927.2 696.8h0M928.6 694.2h0M927.5 697.9h0M927.6 711.3h0M926.1 694.3h0M926.0 695.5h0M928.7 699.0h0M928.3 686.5h0M927.5 703.9h0M926.5 693.7h0M928.5 709.0h0M926.4 684.5h0M928.9 695.7h0M927.4 693.1h0M926.5 696.3h0M927.8 683.8h0M933.0 686.4h0M932.4 686.4h0M931.5 685.2h0M930.6 688.7h0M933.9 686.4h0M932.8 684.2h0M932.5 684.9h0M930.0 685.5h0M931.6 687.6h0M934.2 696.1h0M935.2 683.9h0M930.0 683.4h0M934.0 649.1h0M930.5 647.6h0M934.3 647.0h0M930.6 646.2h0M937.2 648.7h0M936.4 649.1h0M937.4 648.9h0M937.4 648.5h0M937.0 648.9h0M937.0 649.4h0M945.6 647.4h0M942.2 647.0h0M945.5 649.2h0M945.5 647.1h0M950.1 649.8h0M951.0 649.4h0M951.4 646.9h0M947.6 648.5h0M956.5 650.0h0M956.4 650.0h0M958.8 647.0h0M958.8 650.1h0M958.6 647.5h0M790.9 590.5h0M790.9 611.1h0M790.9 627.2h0M790.9 634.0h0M795.7 579.1h0M796.9 582.5h0M796.9 600.8h0M795.7 610.0h0M796.9 619.1h0M796.9 624.9h0M796.9 636.3h0M808.1 628.3h0M808.1 632.9h0M808.1 637.5h0M814.4 630.6h0M814.0 634.0h0M819.1 582.5h0M819.1 602.0h0M819.1 613.4h0M819.1 616.9h0M819.1 620.3h0M819.1 623.7h0M819.1 627.2h0M819.1 629.4h0M819.1 638.6h0M819.1 650.0h0M819.1 686.7h0M819.1 693.5h0M819.1 702.7h0M819.4 722.1h0M821.6 631.7h0M821.6 638.6h0M824.1 632.9h0M825.2 635.2h0M827.9 610.5h0M853.7 602.0h0M851.2 613.4h0M853.7 624.2h0M851.2 630.6h0M852.5 632.9h0M855.2 638.1h0M861.4 648.9h0M792.1 698.1h0M794.4 714.1h0M796.9 707.3h0M805.6 702.2h0M825.2 708.4h0M827.9 711.8h0M825.2 719.9h0M825.2 725.6h0M830.2 705.0h0M840.2 747.3h0M842.7 741.6h0M843.8 747.3h0M851.6 714.1h0M851.6 723.3h0M851.6 732.0h0M852.2 732.4h0M851.6 741.6h0M851.6 746.2h0M851.6 750.8h0M856.4 726.7h0M858.9 720.5h0M858.9 708.4h0M861.4 702.7h0M861.4 709.6h0M861.4 718.7h0M861.4 723.3h0M867.6 719.9h0M870.0 727.9h0M827.9 755.3h0M843.8 760.6h0M851.4 757.6h0M859.1 759.9h0M805.8 775.5h0M851.4 770.2h0M867.6 774.8h0M829.1 778.9h0M827.9 781.2h0M819.3 789.9h0M827.9 789.2h0M851.4 788.5h0M851.4 793.3h0M851.4 803.4h0M861.4 804.3h0M851.4 809.1h0M868.6 809.8h0M794.6 813.0h0M851.4 819.6h0M851.4 821.2h0M851.4 824.7h0M795.6 827.2h0M851.4 839.6h0M851.4 843.2h0M861.4 838.2h0M861.4 846.0h0M794.6 847.6h0M851.4 858.3h0M858.9 857.4h0M859.1 859.5h0M861.4 870.2h0M805.8 881.9h0M868.9 894.5h0M805.8 970.7h0M907.3 575.0h0M948.0 632.5h0M937.2 638.8h0M922.3 639.5h0M907.3 638.8h0M953.5 641.2h0M873.5 744.5h0M913.5 747.0h0M917.3 743.8h0M944.2 727.5h0M948.0 720.0h0M948.0 700.0h0M943.5 710.0h0M933.5 723.8h0M936.0 707.5h0M907.3 705.0h0M907.3 690.0h0M907.3 695.0h0M873.5 786.2h0M873.5 856.2h0M916.0 762.5h0M917.3 767.0h0M916.0 772.5h0M944.2 770.8h0M917.3 796.8h0M917.3 801.8h0M944.2 809.5h0M913.5 845.8h0M924.5 852.2h0M922.0 867.0h0M926.0 875.8h0M926.0 886.5h0M944.2 884.5h0M916.0 902.0h0M881.1 650.8h0M882.5 651.4h0M881.4 652.0h0M879.8 652.1h0M881.1 653.8h0M883.6 654.3h0M881.1 654.7h0M874.9 655.6h0M881.1 656.3h0M883.9 656.6h0M881.1 656.9h0M881.2 657.5h0M879.6 657.7h0M886.0 657.8h0M907.1 652.6h0M909.6 654.6h0M913.4 657.1h0M943.2 650.3h0M955.7 650.7h0M943.2 651.6h0M938.4 651.9h0M935.6 652.0h0M936.5 652.8h0M950.6 652.7h0M935.6 653.0h0M938.4 653.2h0M950.6 653.1h0M937.1 653.4h0M943.2 653.6h0M951.9 653.7h0M953.0 654.2h0M936.7 654.7h0M938.4 654.9h0M956.8 654.8h0M955.2 654.9h0M957.0 655.2h0M938.4 655.4h0M942.2 655.6h0M936.7 655.7h0M939.4 655.6h0M943.2 655.8h0M938.1 655.9h0M956.8 656.0h0M953.0 656.2h0M933.2 656.6h0M957.0 656.7h0M937.1 657.1h0M951.9 657.1h0M951.9 657.4h0M935.6 657.7h0M930.8 657.9h0M950.8 657.9h0M883.6 658.6h0M880.9 658.8h0M879.8 659.6h0M881.1 659.7h0M883.6 660.2h0M881.1 661.2h0M879.8 661.3h0M880.9 661.7h0M883.6 662.5h0M879.8 662.9h0M874.7 663.0h0M876.0 663.5h0M877.6 663.7h0M881.2 663.7h0M881.1 664.3h0M876.3 664.6h0M874.9 664.8h0M874.9 665.0h0M879.8 665.4h0M883.6 665.4h0M881.4 665.6h0M878.7 665.7h0M909.6 658.2h0M920.8 658.2h0M938.4 658.3h0M953.0 658.1h0M957.0 658.5h0M935.6 659.2h0M951.7 659.2h0M955.7 659.2h0M918.3 659.4h0M934.3 659.6h0M943.2 659.9h0M909.6 660.0h0M908.0 660.2h0M908.3 660.5h0M938.4 660.3h0M935.6 660.4h0M945.6 660.5h0M941.8 660.7h0M955.7 660.5h0M950.6 661.0h0M950.6 661.2h0M950.6 661.5h0M907.1 661.5h0M909.6 661.8h0M924.6 661.5h0M936.7 661.5h0M935.4 661.7h0M929.4 661.8h0M931.0 662.2h0M909.6 662.2h0M911.0 662.4h0M937.1 662.4h0M938.4 662.6h0M955.7 662.4h0M953.0 662.8h0M909.6 662.9h0M909.6 663.0h0M909.6 663.2h0M945.6 663.2h0M937.1 663.6h0M931.0 664.1h0M937.1 664.2h0M943.2 664.1h0M907.1 664.2h0M907.1 664.4h0M909.6 664.6h0M918.3 664.5h0M944.5 664.4h0M949.5 664.4h0M955.7 664.4h0M950.6 664.7h0M928.1 664.9h0M933.2 664.9h0M948.1 665.0h0M907.1 665.0h0M941.8 665.4h0M928.1 665.6h0M919.4 665.7h0M924.6 665.8h0M877.6 666.0h0M883.6 666.1h0M886.3 666.2h0M874.9 666.3h0M878.2 666.5h0M881.2 666.4h0M879.8 666.7h0M881.2 667.1h0M886.0 667.2h0M877.6 667.4h0M874.9 667.6h0M881.2 667.6h0M879.8 667.8h0M877.1 668.0h0M879.8 668.0h0M874.7 668.4h0M879.8 668.4h0M883.6 668.6h0M881.2 668.8h0M877.6 668.8h0M878.7 669.2h0M881.2 669.3h0M878.7 669.7h0M879.8 669.8h0M876.0 670.0h0M877.1 670.2h0M878.7 670.4h0M883.6 670.5h0M874.9 670.5h0M879.8 670.6h0M877.1 670.8h0M881.2 670.9h0M874.9 671.0h0M878.2 671.2h0M881.2 671.3h0M874.9 671.4h0M878.2 671.5h0M874.9 671.7h0M878.7 671.7h0M881.2 671.9h0M886.0 671.8h0M874.9 672.0h0M874.7 672.3h0M886.0 672.5h0M876.0 672.6h0M878.2 672.8h0M881.2 672.9h0M874.9 672.9h0M883.6 673.1h0M873.8 673.4h0M877.1 673.6h0M874.9 673.8h0M909.6 665.9h0M922.1 666.2h0M925.9 666.2h0M933.2 665.9h0M943.2 666.0h0M907.1 666.3h0M909.6 666.6h0M911.0 666.7h0M906.9 666.8h0M918.3 666.9h0M909.6 667.1h0M918.3 667.3h0M907.1 667.3h0M929.5 667.3h0M945.6 667.3h0M909.6 667.7h0M907.1 667.8h0M911.0 668.0h0M913.4 668.1h0M935.6 667.8h0M948.1 667.8h0M945.4 668.0h0M942.7 668.2h0M929.5 668.2h0M928.1 668.6h0M934.3 668.4h0M936.2 668.5h0M951.9 668.7h0M918.3 668.9h0M935.6 668.9h0M920.8 669.4h0M929.5 669.5h0M933.2 669.8h0M943.2 669.9h0M945.6 670.2h0M908.3 670.6h0M913.4 670.5h0M935.6 670.5h0M928.1 670.8h0M930.8 670.9h0M918.3 670.9h0M918.3 671.1h0M931.0 671.2h0M909.6 671.7h0M938.4 671.8h0M909.6 672.0h0M910.7 672.1h0M935.6 672.2h0M945.6 672.2h0M909.6 672.4h0M925.9 672.3h0M925.7 672.7h0M910.7 673.1h0M912.3 673.1h0M874.9 674.0h0M879.8 674.0h0M877.1 674.2h0M878.2 674.3h0M876.0 674.5h0M878.2 674.9h0M883.6 675.0h0M876.0 675.1h0M886.0 675.2h0M883.6 675.4h0M874.9 675.4h0M878.2 675.5h0M877.1 675.7h0M879.8 675.8h0M881.2 675.9h0M877.1 676.1h0M876.0 676.3h0M877.6 676.5h0M876.0 676.7h0M876.0 676.9h0M873.8 677.1h0M874.9 677.3h0M879.8 677.6h0M886.0 678.0h0M878.7 678.3h0M878.7 678.5h0M874.9 678.6h0M879.8 678.7h0M877.1 678.9h0M886.0 678.9h0M879.8 679.1h0M878.2 679.3h0M876.0 679.5h0M878.7 679.7h0M877.6 680.0h0M883.6 680.3h0M879.8 680.9h0M874.9 681.0h0M886.0 681.2h0M879.8 681.2h0M874.9 681.5h0M881.2 681.6h0M873.8 681.6h0M918.3 673.9h0M933.2 673.9h0M911.0 674.1h0M949.5 674.0h0M937.1 674.2h0M933.2 674.3h0M931.0 674.5h0M950.8 674.4h0M909.6 674.6h0M913.4 674.6h0M949.5 674.9h0M919.4 674.9h0M909.6 674.9h0M907.1 675.1h0M912.3 675.2h0M918.3 675.3h0M934.3 675.2h0M938.4 675.3h0M925.9 675.4h0M957.0 675.5h0M907.1 675.8h0M907.1 676.1h0M924.6 675.9h0M941.8 676.1h0M949.5 676.0h0M949.5 676.3h0M949.5 676.5h0M949.5 676.8h0M918.3 676.4h0M921.0 676.5h0M928.3 676.6h0M907.1 676.9h0M933.2 676.9h0M934.3 677.1h0M925.9 677.1h0M945.6 677.0h0M912.3 677.2h0M938.4 677.5h0M913.4 677.6h0M912.3 677.8h0M912.0 677.9h0M945.6 677.8h0M928.3 678.1h0M912.0 678.3h0M920.8 678.4h0M909.6 678.7h0M931.0 678.7h0M945.6 679.2h0M951.9 679.3h0M929.5 679.4h0M931.0 679.9h0M929.5 680.3h0M912.3 680.6h0M909.6 680.7h0M941.8 680.7h0M949.5 681.0h0M928.3 681.2h0M941.8 681.2h0M918.3 681.7h0M927.0 681.7h0M938.4 681.7h0M874.9 681.8h0M877.6 681.9h0M873.8 682.1h0M873.8 682.3h0M876.0 682.7h0M921.6 681.8h0M912.0 681.9h0M912.0 682.1h0M912.3 682.4h0M912.9 682.6h0M913.4 682.8h0M931.0 682.5h0M928.3 682.7h0M935.6 682.8h0M923.2 683.0h0M788.1 650.7h0M788.1 652.7h0M788.1 653.6h0M788.1 653.9h0M788.1 654.9h0M788.1 655.1h0M788.1 656.2h0M788.0 656.5h0M790.6 651.3h0M790.7 651.5h0M790.8 651.6h0M790.6 653.3h0M790.7 654.0h0M790.6 655.6h0M790.6 655.8h0M790.7 656.2h0M790.5 657.1h0M790.5 657.8h0M794.2 651.6h0M794.4 652.3h0M794.3 654.1h0M794.3 654.4h0M794.2 656.3h0M796.6 650.7h0M797.9 653.4h0M796.8 654.5h0M796.8 655.2h0M808.2 650.7h0M808.2 650.9h0M806.7 652.5h0M809.2 652.5h0M805.5 653.0h0M806.6 653.2h0M808.0 653.7h0M805.5 654.1h0M807.9 654.4h0M806.8 655.0h0M806.8 655.2h0M809.2 655.3h0M805.7 655.8h0M806.7 655.6h0M806.7 655.9h0M808.0 655.8h0M809.1 655.9h0M805.5 656.5h0M807.9 656.4h0M806.7 656.6h0M806.6 657.1h0M806.6 657.6h0M805.7 657.8h0M806.9 657.8h0M808.0 657.9h0M814.1 650.5h0M815.4 650.5h0M814.1 650.7h0M813.1 651.1h0M814.0 651.4h0M815.4 651.4h0M815.5 651.7h0M815.5 651.9h0M815.5 652.2h0M814.1 652.4h0M815.4 652.5h0M815.6 653.1h0M814.3 653.4h0M814.1 653.7h0M813.1 653.9h0M815.4 653.9h0M815.5 654.1h0M816.6 654.3h0M813.1 654.3h0M814.1 654.4h0M815.5 654.9h0M813.1 655.1h0M814.0 655.3h0M815.6 655.2h0M816.5 655.3h0M813.1 655.6h0M814.1 655.7h0M814.1 656.0h0M813.1 656.1h0M815.3 656.0h0M814.1 656.5h0M814.1 656.7h0M815.5 657.0h0M814.1 657.4h0M815.4 657.4h0M788.0 658.6h0M788.0 658.8h0M790.7 658.7h0M791.9 660.0h0M790.6 660.6h0M791.8 660.5h0M790.8 661.2h0M791.9 661.3h0M790.7 661.5h0M792.0 662.0h0M792.0 662.6h0M791.9 663.0h0M790.6 663.2h0M791.8 663.2h0M790.8 663.5h0M791.9 664.1h0M791.9 664.4h0M794.3 658.1h0M794.2 659.4h0M794.2 659.7h0M794.4 660.3h0M794.4 660.8h0M794.2 665.0h0M794.2 665.2h0M796.7 658.1h0M796.8 658.2h0M796.6 660.7h0M796.9 661.0h0M796.9 661.2h0M796.7 661.5h0M797.9 662.5h0M796.9 663.5h0M798.1 663.8h0M796.7 664.0h0M796.7 665.0h0M806.9 658.1h0M808.0 658.2h0M805.5 659.3h0M808.3 659.3h0M805.5 659.9h0M808.1 660.3h0M806.8 660.4h0M806.0 660.8h0M806.9 660.8h0M808.1 661.7h0M805.5 662.4h0M806.9 662.7h0M806.7 663.1h0M806.9 663.4h0M805.5 663.7h0M806.6 664.0h0M808.2 664.2h0M805.5 664.8h0M806.6 664.8h0M805.6 665.5h0M806.9 665.8h0M808.0 665.9h0M815.3 659.2h0M815.2 660.3h0M815.3 661.7h0M816.6 662.4h0M814.0 662.6h0M815.6 663.0h0M813.1 663.4h0M814.0 663.8h0M815.3 664.5h0M814.4 664.7h0M815.6 665.0h0M812.8 665.4h0M814.5 665.4h0M815.6 665.4h0M815.4 665.9h0M819.2 659.7h0M819.3 662.4h0M819.0 664.3h0M788.0 668.2h0M790.8 666.2h0M792.0 667.2h0M790.5 667.8h0M791.8 668.3h0M791.7 670.0h0M790.7 671.2h0M791.8 671.1h0M791.9 672.0h0M791.9 673.0h0M790.7 673.6h0M791.9 674.0h0M794.1 666.4h0M794.4 670.9h0M794.3 671.2h0M796.8 667.3h0M796.6 668.3h0M796.9 668.9h0M798.0 668.9h0M797.0 669.6h0M796.7 670.8h0M796.9 672.0h0M796.7 672.7h0M797.1 673.1h0M796.7 673.9h0M806.8 666.2h0M807.1 666.4h0M808.1 666.6h0M806.7 666.8h0M808.1 667.4h0M805.5 667.4h0M805.3 667.7h0M806.9 667.7h0M805.4 667.9h0M806.6 668.2h0M806.9 668.4h0M805.3 669.1h0M806.3 669.2h0M806.9 668.9h0M807.9 669.0h0M805.5 670.5h0M806.6 670.5h0M805.7 670.8h0M806.9 671.6h0M805.7 671.9h0M808.3 672.0h0M806.8 672.5h0M807.9 673.1h0M807.9 673.3h0M805.6 673.8h0M807.9 673.8h0M812.8 666.3h0M813.1 666.8h0M814.2 666.8h0M815.3 666.9h0M812.9 667.4h0M816.5 667.3h0M815.3 667.5h0M815.5 667.8h0M813.1 667.9h0M815.4 668.0h0M812.9 668.2h0M814.2 668.3h0M812.9 668.9h0M814.0 668.9h0M814.0 669.2h0M815.6 669.2h0M814.1 670.2h0M815.3 670.3h0M812.9 671.0h0M812.9 671.1h0M812.9 671.8h0M814.1 671.8h0M815.2 671.9h0M815.2 672.1h0M815.2 672.3h0M813.1 672.7h0M812.9 672.9h0M813.1 673.1h0M815.2 673.2h0M815.2 673.7h0M813.1 673.8h0M819.2 669.0h0M790.9 674.4h0M791.9 674.6h0M791.8 675.9h0M790.9 676.4h0M791.9 676.5h0M791.8 677.2h0M790.7 678.3h0M791.8 678.9h0M791.9 679.5h0M792.0 679.9h0M791.9 680.2h0M794.3 674.3h0M794.3 674.5h0M794.3 675.8h0M795.4 677.7h0M794.3 680.4h0M794.3 680.9h0M794.4 682.1h0M796.8 674.7h0M796.7 675.8h0M796.7 676.1h0M796.8 676.4h0M798.0 676.5h0M796.7 678.6h0M797.9 678.9h0M796.7 680.2h0M796.8 682.0h0M808.1 674.8h0M806.6 675.5h0M808.0 675.6h0M805.7 676.5h0M806.6 678.1h0M805.4 678.3h0M805.4 678.6h0M805.7 679.2h0M805.7 679.7h0M805.7 679.9h0M807.9 681.4h0M806.9 681.9h0M815.2 674.3h0M814.0 675.0h0M815.3 675.4h0M814.0 675.7h0M813.0 677.6h0M812.8 678.0h0M813.1 678.7h0M814.0 680.3h0M812.8 680.9h0M815.7 681.1h0M815.3 681.8h0M806.9 682.4h0M805.7 682.9h0M812.9 682.4h0M814.0 682.5h0M826.8 650.2h0M824.0 650.4h0M825.4 650.5h0M821.4 650.9h0M821.4 651.0h0M824.1 650.8h0M825.3 650.7h0M825.4 651.1h0M826.7 651.0h0M824.0 651.6h0M824.0 651.9h0M824.0 652.2h0M826.5 651.8h0M827.9 651.7h0M829.2 651.6h0M821.6 652.5h0M824.1 652.6h0M821.7 653.1h0M826.5 653.4h0M824.0 653.6h0M826.7 653.8h0M826.6 654.2h0M822.9 654.5h0M824.0 654.8h0M829.2 654.7h0M819.1 655.1h0M821.7 655.3h0M821.6 655.6h0M824.0 655.4h0M825.3 655.4h0M826.5 655.4h0M827.7 655.4h0M824.0 655.8h0M824.1 655.9h0M826.5 655.8h0M821.6 656.0h0M819.1 656.0h0M821.6 656.4h0M821.7 656.8h0M826.7 656.2h0M826.6 656.5h0M825.3 656.7h0M826.8 656.7h0M824.0 656.9h0M821.7 657.5h0M824.1 657.5h0M824.0 657.6h0M821.6 657.8h0M826.5 657.7h0M826.5 657.9h0M821.7 658.1h0M826.6 658.1h0M824.2 658.3h0M821.7 658.5h0M821.6 658.8h0M825.2 658.8h0M823.0 659.1h0M824.2 659.1h0M821.8 659.5h0M824.0 659.5h0M821.6 659.8h0M821.4 660.8h0M821.5 661.1h0M821.7 661.7h0M825.5 660.7h0M826.8 660.7h0M826.5 661.0h0M829.2 660.9h0M829.1 661.2h0M825.5 661.5h0M827.7 661.4h0M826.5 661.7h0M824.0 662.6h0M824.2 662.8h0M829.0 662.5h0M827.6 662.7h0M826.8 663.2h0M829.1 663.2h0M827.8 663.3h0M826.6 663.5h0M828.9 663.5h0M821.6 663.7h0M824.0 664.1h0M826.7 664.1h0M829.2 664.1h0M828.9 664.4h0M825.5 664.5h0M826.6 664.6h0M825.5 664.9h0M827.7 664.9h0M829.0 664.9h0M829.2 665.2h0M825.4 665.6h0M824.2 665.8h0M827.8 666.4h0M825.5 666.6h0M827.7 666.7h0M821.7 667.0h0M826.8 667.1h0M827.8 667.0h0M824.2 667.2h0M828.8 667.4h0M826.6 667.5h0M827.8 667.6h0M825.5 667.8h0M826.8 667.8h0M828.9 667.7h0M827.8 667.9h0M826.6 668.1h0M824.0 668.1h0M821.8 668.4h0M825.5 668.5h0M827.8 668.5h0M827.7 668.7h0M829.2 668.9h0M823.9 669.0h0M826.4 669.3h0M824.0 669.4h0M824.8 669.6h0M823.9 669.8h0M825.5 669.8h0M829.2 670.0h0M829.1 670.2h0M826.4 670.5h0M827.5 670.4h0M830.2 670.6h0M824.1 670.9h0M821.5 671.3h0M821.7 672.1h0M821.5 672.3h0M821.5 672.5h0M829.0 672.2h0M827.7 672.5h0M825.2 672.7h0M828.9 672.9h0M821.7 673.1h0M827.8 673.5h0M825.5 673.8h0M829.2 673.8h0M827.7 673.9h0M821.5 674.0h0M827.5 674.1h0M826.8 674.3h0M829.2 674.3h0M821.8 674.9h0M825.6 674.9h0M826.8 675.0h0M827.8 675.1h0M828.9 674.9h0M827.7 675.7h0M829.2 675.9h0M821.6 676.0h0M821.6 676.2h0M821.5 676.6h0M825.4 676.2h0M825.2 676.5h0M827.8 676.5h0M830.3 676.9h0M825.6 677.2h0M827.8 677.2h0M828.9 677.2h0M826.4 677.6h0M824.4 678.0h0M825.3 677.9h0M825.1 678.3h0M826.9 678.1h0M827.8 678.3h0M821.8 678.2h0M821.8 678.4h0M827.9 678.6h0M826.3 678.7h0M829.2 679.0h0M825.6 679.8h0M828.9 679.9h0M829.2 680.1h0M826.4 680.2h0M825.1 680.5h0M827.8 681.5h0M829.2 681.4h0M828.9 682.1h0M825.3 682.3h0M825.2 682.5h0M821.8 682.9h0M852.6 651.1h0M855.1 652.1h0M856.2 652.0h0M843.9 654.6h0M851.3 654.5h0M852.8 654.5h0M856.4 654.8h0M856.4 657.0h0M857.6 658.9h0M843.9 660.0h0M857.6 660.0h0M840.1 660.5h0M852.5 660.8h0M855.1 660.9h0M857.6 661.1h0M842.6 661.8h0M841.3 662.1h0M856.5 662.1h0M857.7 662.1h0M852.5 662.3h0M840.3 662.6h0M852.5 662.7h0M857.4 663.1h0M842.6 663.5h0M856.4 663.6h0M843.9 663.8h0M869.9 663.7h0M852.9 664.3h0M855.1 664.2h0M840.3 664.5h0M842.6 664.7h0M843.9 664.6h0M869.9 664.7h0M841.3 665.0h0M843.9 665.2h0M855.1 665.6h0M852.5 665.7h0M852.5 665.9h0M857.6 665.9h0M843.9 666.0h0M842.6 667.1h0M840.2 668.1h0M842.6 668.1h0M843.9 668.4h0M840.1 669.1h0M842.6 669.3h0M842.7 669.5h0M840.1 670.2h0M842.8 670.5h0M840.4 670.6h0M842.6 670.8h0M841.4 671.6h0M840.4 671.8h0M843.9 672.6h0M840.1 673.2h0M842.8 673.4h0M840.3 673.6h0M840.0 666.8h0M841.5 666.6h0M841.5 666.3h0M855.2 667.1h0M857.5 667.5h0M856.4 667.5h0M852.5 667.9h0M855.3 668.6h0M857.6 668.7h0M851.4 668.8h0M855.3 669.1h0M856.6 669.4h0M857.6 669.5h0M856.5 669.8h0M858.9 670.0h0M857.6 670.0h0M852.6 670.1h0M852.6 670.3h0M852.6 670.5h0M852.7 670.7h0M856.4 670.5h0M861.4 670.6h0M855.2 671.5h0M857.4 671.6h0M855.3 672.1h0M857.6 672.3h0M855.2 672.4h0M852.6 672.7h0M861.3 672.8h0M856.5 673.1h0M857.7 673.2h0M861.4 673.4h0M857.6 673.4h0M856.5 673.6h0M857.7 673.8h0M868.7 667.0h0M867.5 667.2h0M866.5 667.8h0M870.0 667.8h0M872.5 667.7h0M872.4 668.0h0M869.9 669.5h0M866.3 670.7h0M872.5 670.6h0M867.5 671.2h0M867.5 671.5h0M866.5 672.1h0M866.4 673.0h0M870.0 672.8h0M870.0 673.0h0M870.0 673.2h0M872.4 673.0h0M866.5 673.9h0M872.4 673.8h0M840.1 674.2h0M842.6 674.2h0M843.8 674.2h0M840.0 674.8h0M842.9 675.6h0M844.0 676.0h0M842.6 676.2h0M842.5 676.4h0M842.7 677.3h0M841.4 677.8h0M840.1 677.8h0M841.3 678.4h0M841.3 678.9h0M842.6 679.2h0M840.3 679.6h0M842.8 679.6h0M842.8 680.3h0M840.1 680.7h0M842.8 681.0h0M842.6 681.4h0M841.4 681.5h0M840.1 682.1h0M842.8 682.1h0M856.5 674.2h0M851.5 674.7h0M856.4 675.1h0M856.4 675.5h0M858.7 675.6h0M857.5 675.8h0M857.7 676.0h0M851.3 676.1h0M855.3 676.1h0M856.5 676.2h0M852.7 676.2h0M852.6 676.5h0M858.6 677.6h0M856.3 677.8h0M857.6 678.2h0M857.7 678.4h0M857.7 678.7h0M852.8 679.2h0M855.3 679.3h0M857.7 679.4h0M852.7 679.7h0M855.3 679.8h0M857.5 680.0h0M857.7 680.7h0M851.4 681.3h0M855.3 681.7h0M857.7 681.7h0M852.6 681.9h0M856.4 682.0h0M870.0 674.4h0M866.3 674.7h0M867.7 674.7h0M870.0 674.8h0M867.6 675.7h0M866.4 675.9h0M870.0 675.8h0M872.5 676.0h0M870.0 676.4h0M867.6 676.7h0M870.0 676.7h0M872.5 677.2h0M866.4 677.3h0M867.6 677.5h0M866.4 677.8h0M870.0 677.7h0M867.5 678.4h0M867.6 678.7h0M870.0 678.7h0M870.0 679.2h0M867.5 679.5h0M866.3 679.8h0M866.3 680.0h0M870.0 680.0h0M866.3 680.2h0M868.6 680.3h0M872.4 680.2h0M866.3 680.6h0M870.1 680.9h0M868.9 681.3h0M872.5 681.5h0M872.5 681.7h0M872.4 682.0h0M842.6 682.3h0M841.4 682.4h0M840.0 682.5h0M843.7 682.6h0M855.3 682.2h0M858.7 682.4h0M857.7 682.8h0M872.4 682.2h0M866.5 682.5h0M867.6 682.9h0M855.1 648.9h0M856.4 647.5h0M857.6 649.5h0M852.6 648.3h0M858.8 646.6h0M926.0 532.0h0"/>
</g>
<g fill="none" stroke="#000" stroke-width="3.1" stroke-dasharray="5.0 2.1">
<polyline points="131.30,478.43 133.08,477.65 134.86,476.86 136.64,476.05 138.42,475.23 140.20,474.39 141.98,473.53 143.76,472.66 145.54,471.77 147.32,470.86 149.10,469.93 150.88,468.98 152.66,468.01 154.44,467.01 156.22,466.00 158.00,464.96 159.78,463.91 161.56,462.82 163.34,461.72 165.12,460.58 166.90,459.42 168.68,458.24 170.46,457.02 172.24,455.78 174.02,454.51 175.80,453.20 177.58,451.87 179.36,450.50 181.14,449.09 182.92,447.65 184.70,446.18 186.48,444.66 188.26,443.11 190.04,441.51 191.82,439.87 193.60,438.19 195.38,436.46 197.16,434.68 198.94,432.86 200.72,430.98 202.50,429.05 204.28,427.06 206.06,425.01 207.84,422.91 209.62,420.74 211.40,418.50 213.18,416.20 214.96,413.83 216.74,411.38 218.52,408.86 220.30,406.25 222.08,403.56 223.86,400.79 225.64,397.92 227.42,394.95 229.20,391.89 230.98,388.72 232.76,385.45 234.54,382.06 236.32,378.56 238.10,374.93 239.88,371.17 241.66,367.28 243.44,363.25 245.22,359.07 247.00,354.75 248.78,350.26 250.56,345.62 252.34,340.80 254.12,335.81 255.90,330.64 257.68,325.29 259.46,319.74 261.24,314.00 263.02,308.06 264.80,301.92 266.58,295.58 268.36,289.04 270.14,282.30 271.92,275.37 273.70,268.26 275.48,260.97 277.26,253.53 279.04,245.96 280.82,238.28 282.60,230.53 284.38,222.75 286.16,214.99 287.94,207.30 289.72,199.76 291.50,192.43 293.28,185.39 295.06,178.74 296.84,172.56 298.62,166.95 300.40,162.00 302.18,157.80 303.96,154.43 305.74,151.95 307.52,150.42 309.30,149.87 311.08,150.31 312.86,151.73 314.64,154.11 316.42,157.38 318.20,161.49 319.98,166.36 321.76,171.90 323.54,178.02 325.32,184.62 327.10,191.62 328.88,198.92 330.66,206.45 332.44,214.12 334.22,221.88 336.00,229.66 337.78,237.42 339.56,245.10 341.34,252.69 343.12,260.15 344.90,267.45 346.68,274.58 348.46,281.53 350.24,288.29 352.02,294.86 353.80,301.22 355.58,307.38 357.36,313.34 359.14,319.10 360.92,324.67 362.70,330.05 364.48,335.24 366.26,340.25 368.04,345.08 369.82,349.75 371.60,354.25 373.38,358.59 375.16,362.79 376.94,366.83 378.72,370.74 380.50,374.51 382.28,378.15 384.06,381.67 385.84,385.07 387.62,388.36 389.40,391.54 391.18,394.62 392.96,397.59 394.74,400.47 396.52,403.25 398.30,405.95 400.08,408.57 401.86,411.10 403.64,413.56 405.42,415.94 407.20,418.25 408.98,420.49 410.76,422.67 412.54,424.78 414.32,426.83 416.10,428.83 417.88,430.76 419.66,432.65 421.44,434.48 423.22,436.26 425.00,438.00 426.78,439.68 428.56,441.33 430.34,442.93 432.12,444.49 433.90,446.01 435.68,447.49 437.46,448.93 439.24,450.34 441.02,451.71 442.80,453.05 444.58,454.36 446.36,455.64 448.14,456.88 449.92,458.10 451.70,459.29 453.48,460.45 455.26,461.59 457.04,462.70 458.82,463.78 460.60,464.85 462.38,465.88 464.16,466.90 465.94,467.89 467.72,468.87 469.50,469.82 471.28,470.75 473.06,471.67 474.84,472.56 476.62,473.44 478.40,474.30 480.18,475.14 481.96,475.96 483.74,476.77 485.52,477.56 487.30,478.34"/>
<polyline points="626.40,163.97 628.26,163.90 630.13,163.84 631.99,163.77 633.86,163.70 635.72,163.63 637.59,163.56 639.45,163.48 641.31,163.41 643.18,163.33 645.04,163.26 646.91,163.18 648.77,163.10 650.64,163.01 652.50,162.93 654.36,162.84 656.23,162.75 658.09,162.66 659.96,162.57 661.82,162.48 663.68,162.38 665.55,162.28 667.41,162.18 669.28,162.08 671.14,161.97 673.01,161.86 674.87,161.75 676.73,161.63 678.60,161.52 680.46,161.40 682.33,161.27 684.19,161.15 686.06,161.02 687.92,160.88 689.78,160.75 691.65,160.61 693.51,160.46 695.38,160.31 697.24,160.16 699.11,160.00 700.97,159.84 702.83,159.68 704.70,159.51 706.56,159.33 708.43,159.15 710.29,158.96 712.16,158.77 714.02,158.57 715.88,158.37 717.75,158.16 719.61,157.94 721.48,157.72 723.34,157.48 725.21,157.24 727.07,157.00 728.93,156.74 730.80,156.48 732.66,156.20 734.53,155.92 736.39,155.63 738.26,155.32 740.12,155.01 741.98,154.69 743.85,154.35 745.71,154.00 747.58,153.64 749.44,153.26 751.30,152.88 753.17,152.47 755.03,152.06 756.90,151.63 758.76,151.18 760.63,150.72 762.49,150.24 764.35,149.74 766.22,149.23 768.08,148.70 769.95,148.15 771.81,147.59 773.68,147.01 775.54,146.42 777.40,145.81 779.27,145.19 781.13,144.56 783.00,143.91 784.86,143.27 786.73,142.62 788.59,141.97 790.45,141.33 792.32,140.70 794.18,140.09 796.05,139.50 797.91,138.94 799.78,138.43 801.64,137.96 803.50,137.55 805.37,137.19 807.23,136.91 809.10,136.71 810.96,136.58 812.83,136.53 814.69,136.57 816.55,136.69 818.42,136.89 820.28,137.16 822.15,137.50 824.01,137.91 825.87,138.37 827.74,138.88 829.60,139.43 831.47,140.02 833.33,140.63 835.20,141.26 837.06,141.90 838.92,142.55 840.79,143.19 842.65,143.84 844.52,144.48 846.38,145.12 848.25,145.74 850.11,146.35 851.97,146.95 853.84,147.53 855.70,148.09 857.57,148.64 859.43,149.17 861.30,149.68 863.16,150.18 865.02,150.66 866.89,151.13 868.75,151.58 870.62,152.01 872.48,152.43 874.35,152.83 876.21,153.22 878.07,153.60 879.94,153.96 881.80,154.31 883.67,154.65 885.53,154.97 887.39,155.29 889.26,155.59 891.12,155.89 892.99,156.17 894.85,156.45 896.72,156.71 898.58,156.97 900.44,157.22 902.31,157.46 904.17,157.69 906.04,157.91 907.90,158.13 909.77,158.34 911.63,158.55 913.49,158.75 915.36,158.94 917.22,159.13 919.09,159.31 920.95,159.49 922.82,159.66 924.68,159.82 926.54,159.99 928.41,160.14 930.27,160.30 932.14,160.45 934.00,160.59 935.87,160.73 937.73,160.87 939.59,161.00 941.46,161.13 943.32,161.26 945.19,161.38 947.05,161.50 948.92,161.62 950.78,161.74 952.64,161.85 954.51,161.96 956.37,162.06 958.24,162.17 960.10,162.27 961.97,162.37 963.83,162.47 965.69,162.56 967.56,162.65 969.42,162.74 971.29,162.83 973.15,162.92 975.01,163.00 976.88,163.09 978.74,163.17 980.61,163.25 982.47,163.33 984.34,163.40 986.20,163.48 988.06,163.55 989.93,163.62 991.79,163.69 993.66,163.76 995.52,163.83 997.39,163.89 999.25,163.96"/>
<polyline points="248.00,970.64 248.59,969.85 249.19,969.04 249.78,968.21 250.37,967.37 250.96,966.51 251.56,965.63 252.15,964.74 252.74,963.83 253.33,962.89 253.93,961.94 254.52,960.97 255.11,959.97 255.70,958.96 256.30,957.92 256.89,956.86 257.48,955.78 258.07,954.67 258.67,953.53 259.26,952.37 259.85,951.19 260.44,949.97 261.04,948.73 261.63,947.46 262.22,946.15 262.81,944.82 263.40,943.45 264.00,942.05 264.59,940.61 265.18,939.14 265.77,937.62 266.37,936.07 266.96,934.48 267.55,932.85 268.14,931.17 268.74,929.45 269.33,927.68 269.92,925.86 270.51,923.99 271.11,922.07 271.70,920.09 272.29,918.05 272.88,915.96 273.48,913.80 274.07,911.58 274.66,909.30 275.25,906.94 275.85,904.51 276.44,902.00 277.03,899.42 277.62,896.75 278.22,894.00 278.81,891.16 279.40,888.22 279.99,885.19 280.58,882.05 281.18,878.81 281.77,875.46 282.36,871.99 282.95,868.40 283.55,864.68 284.14,860.84 284.73,856.85 285.32,852.73 285.92,848.45 286.51,844.02 287.10,839.43 287.69,834.68 288.29,829.75 288.88,824.64 289.47,819.35 290.06,813.86 290.66,808.18 291.25,802.31 291.84,796.23 292.43,789.94 293.03,783.45 293.62,776.76 294.21,769.86 294.80,762.76 295.39,755.48 295.99,748.02 296.58,740.41 297.17,732.65 297.76,724.79 298.36,716.86 298.95,708.89 299.54,700.95 300.13,693.08 300.73,685.35 301.32,677.85 301.91,670.64 302.50,663.83 303.10,657.51 303.69,651.77 304.28,646.70 304.87,642.40 305.47,638.95 306.06,636.41 306.65,634.85 307.24,634.28 307.84,634.73 308.43,636.19 309.02,638.61 309.61,641.97 310.21,646.18 310.80,651.16 311.39,656.83 311.98,663.10 312.57,669.86 313.17,677.02 313.76,684.50 314.35,692.20 314.94,700.06 315.54,708.00 316.13,715.96 316.72,723.90 317.31,731.77 317.91,739.54 318.50,747.17 319.09,754.65 319.68,761.95 320.28,769.07 320.87,775.99 321.46,782.71 322.05,789.22 322.65,795.53 323.24,801.63 323.83,807.53 324.42,813.23 325.02,818.74 325.61,824.05 326.20,829.18 326.79,834.13 327.38,838.91 327.98,843.51 328.57,847.96 329.16,852.25 329.75,856.40 330.35,860.40 330.94,864.26 331.53,867.99 332.12,871.59 332.72,875.07 333.31,878.44 333.90,881.69 334.49,884.84 335.09,887.88 335.68,890.83 336.27,893.68 336.86,896.45 337.46,899.12 338.05,901.72 338.64,904.23 339.23,906.67 339.83,909.04 340.42,911.33 341.01,913.56 341.60,915.72 342.20,917.82 342.79,919.86 343.38,921.85 343.97,923.78 344.56,925.65 345.16,927.48 345.75,929.25 346.34,930.98 346.93,932.66 347.53,934.30 348.12,935.90 348.71,937.45 349.30,938.97 349.90,940.45 350.49,941.89 351.08,943.29 351.67,944.67 352.27,946.01 352.86,947.31 353.45,948.59 354.04,949.83 354.64,951.05 355.23,952.24 355.82,953.40 356.41,954.54 357.01,955.65 357.60,956.74 358.19,957.80 358.78,958.84 359.37,959.86 359.97,960.86 360.56,961.83 361.15,962.79 361.74,963.72 362.34,964.64 362.93,965.53 363.52,966.41 364.11,967.27 364.71,968.12 365.30,968.95 365.89,969.76 366.48,970.55"/>
<polyline points="748.76,682.97 749.38,682.91 750.00,682.85 750.62,682.79 751.24,682.73 751.87,682.67 752.49,682.60 753.11,682.53 753.73,682.46 754.35,682.40 754.97,682.32 755.59,682.25 756.21,682.18 756.83,682.10 757.45,682.02 758.07,681.94 758.69,681.86 759.31,681.78 759.93,681.70 760.55,681.61 761.17,681.52 761.80,681.43 762.42,681.34 763.04,681.24 763.66,681.15 764.28,681.05 764.90,680.94 765.52,680.84 766.14,680.73 766.76,680.62 767.38,680.51 768.00,680.39 768.62,680.27 769.24,680.15 769.86,680.03 770.48,679.90 771.10,679.77 771.73,679.63 772.35,679.49 772.97,679.35 773.59,679.20 774.21,679.05 774.83,678.89 775.45,678.73 776.07,678.56 776.69,678.39 777.31,678.22 777.93,678.04 778.55,677.85 779.17,677.66 779.79,677.46 780.41,677.25 781.03,677.04 781.66,676.82 782.28,676.59 782.90,676.36 783.52,676.12 784.14,675.87 784.76,675.61 785.38,675.34 786.00,675.06 786.62,674.78 787.24,674.48 787.86,674.17 788.48,673.85 789.10,673.52 789.72,673.18 790.34,672.82 790.96,672.45 791.59,672.07 792.21,671.68 792.83,671.27 793.45,670.84 794.07,670.40 794.69,669.95 795.31,669.48 795.93,669.00 796.55,668.50 797.17,667.98 797.79,667.45 798.41,666.91 799.03,666.35 799.65,665.78 800.27,665.20 800.89,664.62 801.52,664.02 802.14,663.43 802.76,662.84 803.38,662.25 804.00,661.67 804.62,661.11 805.24,660.57 805.86,660.07 806.48,659.59 807.10,659.16 807.72,658.79 808.34,658.47 808.96,658.21 809.58,658.02 810.20,657.90 810.82,657.86 811.45,657.89 812.07,658.00 812.69,658.18 813.31,658.43 813.93,658.75 814.55,659.12 815.17,659.54 815.79,660.01 816.41,660.52 817.03,661.05 817.65,661.61 818.27,662.18 818.89,662.77 819.51,663.36 820.13,663.96 820.75,664.55 821.38,665.14 822.00,665.72 822.62,666.29 823.24,666.85 823.86,667.39 824.48,667.92 825.10,668.44 825.72,668.94 826.34,669.43 826.96,669.90 827.58,670.35 828.20,670.80 828.82,671.22 829.44,671.63 830.06,672.03 830.68,672.41 831.31,672.78 831.93,673.14 832.55,673.48 833.17,673.81 833.79,674.13 834.41,674.44 835.03,674.74 835.65,675.03 836.27,675.31 836.89,675.58 837.51,675.84 838.13,676.09 838.75,676.33 839.37,676.57 839.99,676.79 840.62,677.01 841.24,677.23 841.86,677.43 842.48,677.63 843.10,677.83 843.72,678.02 844.34,678.20 844.96,678.37 845.58,678.55 846.20,678.71 846.82,678.87 847.44,679.03 848.06,679.18 848.68,679.33 849.30,679.47 849.92,679.61 850.55,679.75 851.17,679.88 851.79,680.01 852.41,680.14 853.03,680.26 853.65,680.38 854.27,680.50 854.89,680.61 855.51,680.72 856.13,680.83 856.75,680.93 857.37,681.03 857.99,681.13 858.61,681.23 859.23,681.33 859.85,681.42 860.48,681.51 861.10,681.60 861.72,681.69 862.34,681.77 862.96,681.85 863.58,681.94 864.20,682.02 864.82,682.09 865.44,682.17 866.06,682.24 866.68,682.32 867.30,682.39 867.92,682.46 868.54,682.53 869.16,682.59 869.78,682.66 870.41,682.72 871.03,682.79 871.65,682.85 872.27,682.91 872.89,682.97"/>
</g>
<path d="M131.30 49.50H487.30V478.60H131.30ZM183.33 478.60L183.33 467.60M183.33 49.50L183.33 60.50M251.04 478.60L251.04 467.60M251.04 49.50L251.04 60.50M318.74 478.60L318.74 467.60M318.74 49.50L318.74 60.50M386.45 478.60L386.45 467.60M386.45 49.50L386.45 60.50M454.16 478.60L454.16 467.60M454.16 49.50L454.16 60.50M131.30 444.10L142.30 444.10M487.30 444.10L476.30 444.10M131.30 367.93L142.30 367.93M487.30 367.93L476.30 367.93M131.30 291.76L142.30 291.76M487.30 291.76L476.30 291.76M131.30 215.59L142.30 215.59M487.30 215.59L476.30 215.59M131.30 139.42L142.30 139.42M487.30 139.42L476.30 139.42M131.30 63.25L142.30 63.25M487.30 63.25L476.30 63.25M626.40 49.50H999.25V478.80H626.40ZM680.89 478.80L680.89 467.80M680.89 49.50L680.89 60.50M751.80 478.80L751.80 467.80M751.80 49.50L751.80 60.50M822.72 478.80L822.72 467.80M822.72 49.50L822.72 60.50M893.63 478.80L893.63 467.80M893.63 49.50L893.63 60.50M964.54 478.80L964.54 467.80M964.54 49.50L964.54 60.50M626.40 479.10L637.40 479.10M999.25 479.10L988.25 479.10M626.40 415.50L637.40 415.50M999.25 415.50L988.25 415.50M626.40 351.90L637.40 351.90M999.25 351.90L988.25 351.90M626.40 288.30L637.40 288.30M999.25 288.30L988.25 288.30M626.40 224.70L637.40 224.70M999.25 224.70L988.25 224.70M626.40 161.10L637.40 161.10M999.25 161.10L988.25 161.10M626.40 97.50L637.40 97.50M999.25 97.50L988.25 97.50M131.30 531.90H487.10V970.70H131.30ZM190.60 970.70L190.60 959.70M190.60 531.90L190.60 542.90M249.90 970.70L249.90 959.70M249.90 531.90L249.90 542.90M309.20 970.70L309.20 959.70M309.20 531.90L309.20 542.90M368.50 970.70L368.50 959.70M368.50 531.90L368.50 542.90M427.80 970.70L427.80 959.70M427.80 531.90L427.80 542.90M131.30 935.50L142.30 935.50M487.10 935.50L476.10 935.50M131.30 857.52L142.30 857.52M487.10 857.52L476.10 857.52M131.30 779.54L142.30 779.54M487.10 779.54L476.10 779.54M131.30 701.56L142.30 701.56M487.10 701.56L476.10 701.56M131.30 623.58L142.30 623.58M487.10 623.58L476.10 623.58M131.30 545.60L142.30 545.60M487.10 545.60L476.10 545.60M626.50 531.90H999.25V971.00H626.50ZM688.62 971.00L688.62 960.00M688.62 531.90L688.62 542.90M750.75 971.00L750.75 960.00M750.75 531.90L750.75 542.90M812.88 971.00L812.88 960.00M812.88 531.90L812.88 542.90M875.00 971.00L875.00 960.00M875.00 531.90L875.00 542.90M937.12 971.00L937.12 960.00M937.12 531.90L937.12 542.90M626.50 971.48L637.50 971.48M999.25 971.48L988.25 971.48M626.50 913.25L637.50 913.25M999.25 913.25L988.25 913.25M626.50 855.03L637.50 855.03M999.25 855.03L988.25 855.03M626.50 796.80L637.50 796.80M999.25 796.80L988.25 796.80M626.50 738.58L637.50 738.58M999.25 738.58L988.25 738.58M626.50 680.35L637.50 680.35M999.25 680.35L988.25 680.35M626.50 622.12L637.50 622.12M999.25 622.12L988.25 622.12M626.50 563.90L637.50 563.90M999.25 563.90L988.25 563.90" fill="none" stroke="#5c5c5c" stroke-width="1"/>
<g font-family="Liberation Sans, sans-serif" font-size="16.67" fill="#000" stroke="#000" stroke-width="0.2" opacity="0.999">
<text x="185.93" y="501.05" text-anchor="middle" >7163</text>
<text x="253.64" y="501.05" text-anchor="middle" >7182</text>
<text x="321.34" y="501.05" text-anchor="middle" >7201</text>
<text x="389.05" y="501.05" text-anchor="middle" >7220</text>
<text x="456.76" y="501.05" text-anchor="middle" >7239</text>
<text x="121.40" y="449.90" text-anchor="end" >0</text>
<text x="121.40" y="373.73" text-anchor="end" >500</text>
<text x="121.40" y="297.56" text-anchor="end" >1000</text>
<text x="121.40" y="221.39" text-anchor="end" >1500</text>
<text x="121.40" y="145.22" text-anchor="end" >2000</text>
<text x="121.40" y="69.05" text-anchor="end" >2500</text>
<text x="683.49" y="501.25" text-anchor="middle" >7163</text>
<text x="754.40" y="501.25" text-anchor="middle" >7182</text>
<text x="825.32" y="501.25" text-anchor="middle" >7201</text>
<text x="896.23" y="501.25" text-anchor="middle" >7220</text>
<text x="967.14" y="501.25" text-anchor="middle" >7239</text>
<text x="616.50" y="484.90" text-anchor="end" >-25000</text>
<text x="616.50" y="421.30" text-anchor="end" >-20000</text>
<text x="616.50" y="357.70" text-anchor="end" >-15000</text>
<text x="616.50" y="294.10" text-anchor="end" >-10000</text>
<text x="616.50" y="230.50" text-anchor="end" >-5000</text>
<text x="616.50" y="166.90" text-anchor="end" >0</text>
<text x="616.50" y="103.30" text-anchor="end" >5000</text>
<text x="133.90" y="993.15" text-anchor="middle" >7050</text>
<text x="193.20" y="993.15" text-anchor="middle" >7100</text>
<text x="252.50" y="993.15" text-anchor="middle" >7150</text>
<text x="311.80" y="993.15" text-anchor="middle" >7200</text>
<text x="371.10" y="993.15" text-anchor="middle" >7250</text>
<text x="430.40" y="993.15" text-anchor="middle" >7300</text>
<text x="489.70" y="993.15" text-anchor="middle" >7350</text>
<text x="121.40" y="941.30" text-anchor="end" >0</text>
<text x="121.40" y="863.32" text-anchor="end" >500</text>
<text x="121.40" y="785.34" text-anchor="end" >1000</text>
<text x="121.40" y="707.36" text-anchor="end" >1500</text>
<text x="121.40" y="629.38" text-anchor="end" >2000</text>
<text x="121.40" y="551.40" text-anchor="end" >2500</text>
<text x="629.10" y="993.45" text-anchor="middle" >7050</text>
<text x="691.23" y="993.45" text-anchor="middle" >7100</text>
<text x="753.35" y="993.45" text-anchor="middle" >7150</text>
<text x="815.48" y="993.45" text-anchor="middle" >7200</text>
<text x="877.60" y="993.45" text-anchor="middle" >7250</text>
<text x="939.73" y="993.45" text-anchor="middle" >7300</text>
<text x="1001.85" y="993.45" text-anchor="middle" >7350</text>
<text x="616.60" y="977.27" text-anchor="end" >-25000</text>
<text x="616.60" y="919.05" text-anchor="end" >-20000</text>
<text x="616.60" y="860.83" text-anchor="end" >-15000</text>
<text x="616.60" y="802.60" text-anchor="end" >-10000</text>
<text x="616.60" y="744.38" text-anchor="end" >-5000</text>
<text x="616.60" y="686.15" text-anchor="end" >0</text>
<text x="616.60" y="627.92" text-anchor="end" >5000</text>
<text x="616.60" y="569.70" text-anchor="end" >10000</text>
<text x="309.00" y="30.40" text-anchor="middle" >BLG04N3613.0187</text>
<text x="812.43" y="30.40" text-anchor="middle" xml:space="preserve">298  0.00  0.00  0</text>
<text x="309.00" y="1017.60" text-anchor="middle" >time (HJD-2450000)</text>
<text x="812.83" y="1017.60" text-anchor="middle" >time (HJD-2450000)</text>
<text transform="translate(38.9 264.35) rotate(-90)" text-anchor="middle">d flux</text>
<text transform="translate(38.9 751.60) rotate(-90)" text-anchor="middle">d flux</text>
</g>
</svg></body></html>
